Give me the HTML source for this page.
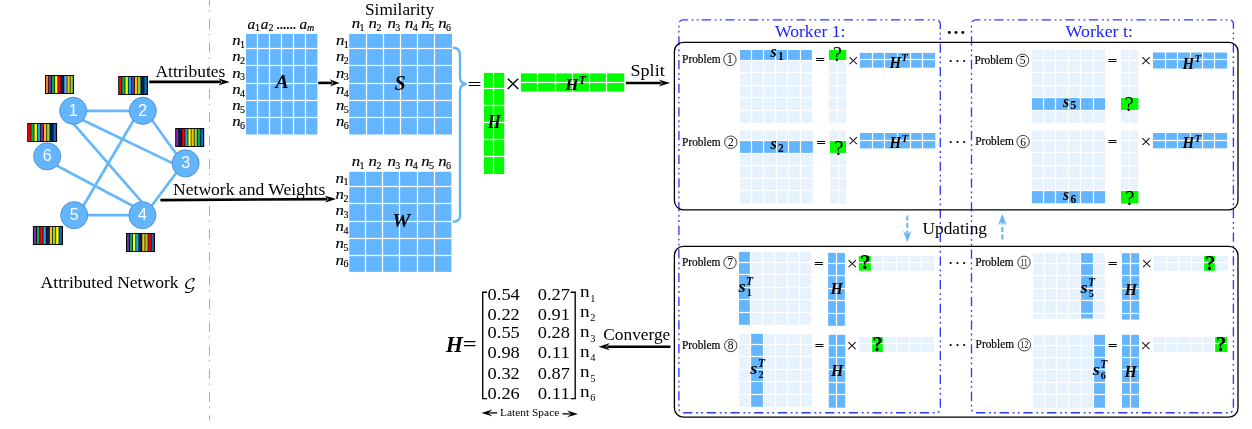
<!DOCTYPE html>
<html lang="en"><head><meta charset="utf-8"><title>Attributed Network Embedding Framework</title>
<style>html,body{margin:0;padding:0;background:#fff;}body{width:1252px;height:429px;overflow:hidden;}svg{display:block;}</style>
</head><body>
<svg width="1252" height="429" viewBox="0 0 1252 429"><line x1="85.80" y1="110.80" x2="130.20" y2="110.80" stroke="#66b8fb" stroke-width="2.7"/>
<line x1="82.11" y1="119.71" x2="173.00" y2="163.40" stroke="#66b8fb" stroke-width="2.7"/>
<line x1="73.20" y1="123.40" x2="142.40" y2="202.60" stroke="#66b8fb" stroke-width="2.7"/>
<line x1="151.71" y1="119.71" x2="176.69" y2="154.49" stroke="#66b8fb" stroke-width="2.7"/>
<line x1="133.89" y1="119.71" x2="83.11" y2="206.29" stroke="#66b8fb" stroke-width="2.7"/>
<line x1="176.69" y1="172.31" x2="151.31" y2="206.29" stroke="#66b8fb" stroke-width="2.7"/>
<line x1="56.11" y1="165.31" x2="133.49" y2="206.29" stroke="#66b8fb" stroke-width="2.7"/>
<line x1="86.80" y1="215.20" x2="129.80" y2="215.20" stroke="#66b8fb" stroke-width="2.7"/>
<circle cx="73.2" cy="110.8" r="13.55" fill="#63b6fd" stroke="#4d8fd2" stroke-width="0.9"/>
<text x="73.2" y="115.7" font-family='"Liberation Sans", sans-serif' font-size="16" font-weight="normal" font-style="normal" fill="#fff" text-anchor="middle" >1</text>
<circle cx="142.8" cy="110.8" r="13.55" fill="#63b6fd" stroke="#4d8fd2" stroke-width="0.9"/>
<text x="142.8" y="115.7" font-family='"Liberation Sans", sans-serif' font-size="16" font-weight="normal" font-style="normal" fill="#fff" text-anchor="middle" >2</text>
<circle cx="185.6" cy="163.4" r="13.55" fill="#63b6fd" stroke="#4d8fd2" stroke-width="0.9"/>
<text x="185.6" y="168.3" font-family='"Liberation Sans", sans-serif' font-size="16" font-weight="normal" font-style="normal" fill="#fff" text-anchor="middle" >3</text>
<circle cx="47.2" cy="156.4" r="13.55" fill="#63b6fd" stroke="#4d8fd2" stroke-width="0.9"/>
<text x="47.2" y="161.3" font-family='"Liberation Sans", sans-serif' font-size="16" font-weight="normal" font-style="normal" fill="#fff" text-anchor="middle" >6</text>
<circle cx="74.2" cy="215.2" r="13.55" fill="#63b6fd" stroke="#4d8fd2" stroke-width="0.9"/>
<text x="74.2" y="220.1" font-family='"Liberation Sans", sans-serif' font-size="16" font-weight="normal" font-style="normal" fill="#fff" text-anchor="middle" >5</text>
<circle cx="142.4" cy="215.2" r="13.55" fill="#63b6fd" stroke="#4d8fd2" stroke-width="0.9"/>
<text x="142.4" y="220.1" font-family='"Liberation Sans", sans-serif' font-size="16" font-weight="normal" font-style="normal" fill="#fff" text-anchor="middle" >4</text>
<rect x="45" y="75" width="29" height="19" fill="#000"/>
<rect x="45.90" y="75.90" width="2.37" height="17.20" fill="#f58220"/>
<rect x="48.97" y="75.90" width="2.37" height="17.20" fill="#7030a0"/>
<rect x="52.03" y="75.90" width="2.37" height="17.20" fill="#00b050"/>
<rect x="55.10" y="75.90" width="2.37" height="17.20" fill="#ffff00"/>
<rect x="58.17" y="75.90" width="2.37" height="17.20" fill="#ff0000"/>
<rect x="61.23" y="75.90" width="2.37" height="17.20" fill="#002060"/>
<rect x="64.30" y="75.90" width="2.37" height="17.20" fill="#5fb4f6"/>
<rect x="67.37" y="75.90" width="2.37" height="17.20" fill="#ffc000"/>
<rect x="70.43" y="75.90" width="2.37" height="17.20" fill="#92d050"/>
<rect x="118.2" y="76" width="29.8" height="19" fill="#000"/>
<rect x="119.10" y="76.90" width="2.46" height="17.20" fill="#ff0000"/>
<rect x="122.26" y="76.90" width="2.46" height="17.20" fill="#00b050"/>
<rect x="125.41" y="76.90" width="2.46" height="17.20" fill="#ffff00"/>
<rect x="128.57" y="76.90" width="2.46" height="17.20" fill="#00b0f0"/>
<rect x="131.72" y="76.90" width="2.46" height="17.20" fill="#7030a0"/>
<rect x="134.88" y="76.90" width="2.46" height="17.20" fill="#ffc000"/>
<rect x="138.03" y="76.90" width="2.46" height="17.20" fill="#92d050"/>
<rect x="141.19" y="76.90" width="2.46" height="17.20" fill="#002060"/>
<rect x="144.34" y="76.90" width="2.46" height="17.20" fill="#0070c0"/>
<rect x="27.2" y="123" width="29.9" height="19" fill="#000"/>
<rect x="28.10" y="123.90" width="2.47" height="17.20" fill="#ff0000"/>
<rect x="31.27" y="123.90" width="2.47" height="17.20" fill="#00b050"/>
<rect x="34.43" y="123.90" width="2.47" height="17.20" fill="#ffff00"/>
<rect x="37.60" y="123.90" width="2.47" height="17.20" fill="#00b0f0"/>
<rect x="40.77" y="123.90" width="2.47" height="17.20" fill="#7030a0"/>
<rect x="43.93" y="123.90" width="2.47" height="17.20" fill="#ffc000"/>
<rect x="47.10" y="123.90" width="2.47" height="17.20" fill="#92d050"/>
<rect x="50.27" y="123.90" width="2.47" height="17.20" fill="#002060"/>
<rect x="53.43" y="123.90" width="2.47" height="17.20" fill="#0070c0"/>
<rect x="175.2" y="128" width="29" height="19" fill="#000"/>
<rect x="176.10" y="128.90" width="2.37" height="17.20" fill="#7030a0"/>
<rect x="179.17" y="128.90" width="2.37" height="17.20" fill="#002060"/>
<rect x="182.23" y="128.90" width="2.37" height="17.20" fill="#ff0000"/>
<rect x="185.30" y="128.90" width="2.37" height="17.20" fill="#00b0f0"/>
<rect x="188.37" y="128.90" width="2.37" height="17.20" fill="#ffff00"/>
<rect x="191.43" y="128.90" width="2.37" height="17.20" fill="#ffc000"/>
<rect x="194.50" y="128.90" width="2.37" height="17.20" fill="#92d050"/>
<rect x="197.57" y="128.90" width="2.37" height="17.20" fill="#00b050"/>
<rect x="200.63" y="128.90" width="2.37" height="17.20" fill="#0070c0"/>
<rect x="32.9" y="226" width="30.1" height="19" fill="#000"/>
<rect x="33.80" y="226.90" width="2.49" height="17.20" fill="#7030a0"/>
<rect x="36.99" y="226.90" width="2.49" height="17.20" fill="#00b050"/>
<rect x="40.18" y="226.90" width="2.49" height="17.20" fill="#ff0000"/>
<rect x="43.37" y="226.90" width="2.49" height="17.20" fill="#00b0f0"/>
<rect x="46.56" y="226.90" width="2.49" height="17.20" fill="#002060"/>
<rect x="49.74" y="226.90" width="2.49" height="17.20" fill="#ffc000"/>
<rect x="52.93" y="226.90" width="2.49" height="17.20" fill="#92d050"/>
<rect x="56.12" y="226.90" width="2.49" height="17.20" fill="#ffff00"/>
<rect x="59.31" y="226.90" width="2.49" height="17.20" fill="#0070c0"/>
<rect x="126" y="233" width="29" height="19" fill="#000"/>
<rect x="126.90" y="233.90" width="2.37" height="17.20" fill="#7030a0"/>
<rect x="129.97" y="233.90" width="2.37" height="17.20" fill="#00b050"/>
<rect x="133.03" y="233.90" width="2.37" height="17.20" fill="#ffff00"/>
<rect x="136.10" y="233.90" width="2.37" height="17.20" fill="#00b0f0"/>
<rect x="139.17" y="233.90" width="2.37" height="17.20" fill="#002060"/>
<rect x="142.23" y="233.90" width="2.37" height="17.20" fill="#ffc000"/>
<rect x="145.30" y="233.90" width="2.37" height="17.20" fill="#92d050"/>
<rect x="148.37" y="233.90" width="2.37" height="17.20" fill="#ff0000"/>
<rect x="151.43" y="233.90" width="2.37" height="17.20" fill="#0070c0"/>
<text x="40.6" y="287.6" font-family='"Liberation Serif", serif' font-size="17.4" font-weight="normal" font-style="normal" fill="#000" text-anchor="start" textLength="138" lengthAdjust="spacingAndGlyphs" >Attributed Network</text>
<text x="183.2" y="288.9" font-family='"DejaVu Math TeX Gyre","DejaVu Serif",serif' font-size="14.2" font-weight="normal" font-style="normal" fill="#000" text-anchor="start" textLength="13" lengthAdjust="spacingAndGlyphs" >𝒢</text>
<line x1="209.5" y1="-4" x2="209.5" y2="420.6" stroke="#adadad" stroke-width="1" stroke-dasharray="10 4.5 1.5 7.3"/>
<line x1="149.2" y1="81.9" x2="221.07" y2="81.90" stroke="#000" stroke-width="2.6"/>
<polygon points="229.70,81.90 218.20,85.50 222.22,81.90 218.20,78.30" fill="#000"/>
<text x="155.5" y="76.6" font-family='"Liberation Serif", serif' font-size="17.4" font-weight="normal" font-style="normal" fill="#000" text-anchor="start" textLength="69.8" lengthAdjust="spacingAndGlyphs" >Attributes</text>
<line x1="160.4" y1="200.1" x2="327.48" y2="199.15" stroke="#000" stroke-width="2.6"/>
<polygon points="336.10,199.10 324.62,202.77 328.63,199.14 324.58,195.57" fill="#000"/>
<text x="173.1" y="194.5" font-family='"Liberation Serif", serif' font-size="17.3" font-weight="normal" font-style="normal" fill="#000" text-anchor="start" textLength="152.2" lengthAdjust="spacingAndGlyphs" >Network and Weights</text>
<line x1="318.2" y1="82.9" x2="332.10" y2="82.90" stroke="#000" stroke-width="2.6"/>
<polygon points="339.60,82.90 329.60,86.50 333.10,82.90 329.60,79.30" fill="#000"/>
<rect x="246.00" y="33.90" width="10.88" height="13.98" fill="#63b6fd"/><rect x="258.12" y="33.90" width="10.75" height="13.98" fill="#63b6fd"/><rect x="270.12" y="33.90" width="10.75" height="13.98" fill="#63b6fd"/><rect x="282.12" y="33.90" width="10.75" height="13.98" fill="#63b6fd"/><rect x="294.12" y="33.90" width="10.75" height="13.98" fill="#63b6fd"/><rect x="306.12" y="33.90" width="11.27" height="13.98" fill="#63b6fd"/><rect x="246.00" y="49.12" width="10.88" height="15.75" fill="#63b6fd"/><rect x="258.12" y="49.12" width="10.75" height="15.75" fill="#63b6fd"/><rect x="270.12" y="49.12" width="10.75" height="15.75" fill="#63b6fd"/><rect x="282.12" y="49.12" width="10.75" height="15.75" fill="#63b6fd"/><rect x="294.12" y="49.12" width="10.75" height="15.75" fill="#63b6fd"/><rect x="306.12" y="49.12" width="11.27" height="15.75" fill="#63b6fd"/><rect x="246.00" y="66.12" width="10.88" height="16.75" fill="#63b6fd"/><rect x="258.12" y="66.12" width="10.75" height="16.75" fill="#63b6fd"/><rect x="270.12" y="66.12" width="10.75" height="16.75" fill="#63b6fd"/><rect x="282.12" y="66.12" width="10.75" height="16.75" fill="#63b6fd"/><rect x="294.12" y="66.12" width="10.75" height="16.75" fill="#63b6fd"/><rect x="306.12" y="66.12" width="11.27" height="16.75" fill="#63b6fd"/><rect x="246.00" y="84.12" width="10.88" height="15.75" fill="#63b6fd"/><rect x="258.12" y="84.12" width="10.75" height="15.75" fill="#63b6fd"/><rect x="270.12" y="84.12" width="10.75" height="15.75" fill="#63b6fd"/><rect x="282.12" y="84.12" width="10.75" height="15.75" fill="#63b6fd"/><rect x="294.12" y="84.12" width="10.75" height="15.75" fill="#63b6fd"/><rect x="306.12" y="84.12" width="11.27" height="15.75" fill="#63b6fd"/><rect x="246.00" y="101.12" width="10.88" height="15.75" fill="#63b6fd"/><rect x="258.12" y="101.12" width="10.75" height="15.75" fill="#63b6fd"/><rect x="270.12" y="101.12" width="10.75" height="15.75" fill="#63b6fd"/><rect x="282.12" y="101.12" width="10.75" height="15.75" fill="#63b6fd"/><rect x="294.12" y="101.12" width="10.75" height="15.75" fill="#63b6fd"/><rect x="306.12" y="101.12" width="11.27" height="15.75" fill="#63b6fd"/><rect x="246.00" y="118.12" width="10.88" height="16.38" fill="#63b6fd"/><rect x="258.12" y="118.12" width="10.75" height="16.38" fill="#63b6fd"/><rect x="270.12" y="118.12" width="10.75" height="16.38" fill="#63b6fd"/><rect x="282.12" y="118.12" width="10.75" height="16.38" fill="#63b6fd"/><rect x="294.12" y="118.12" width="10.75" height="16.38" fill="#63b6fd"/><rect x="306.12" y="118.12" width="11.27" height="16.38" fill="#63b6fd"/>
<rect x="349.20" y="33.90" width="16.68" height="13.98" fill="#63b6fd"/><rect x="367.12" y="33.90" width="15.75" height="13.98" fill="#63b6fd"/><rect x="384.12" y="33.90" width="15.75" height="13.98" fill="#63b6fd"/><rect x="401.12" y="33.90" width="15.75" height="13.98" fill="#63b6fd"/><rect x="418.12" y="33.90" width="15.75" height="13.98" fill="#63b6fd"/><rect x="435.12" y="33.90" width="16.88" height="13.98" fill="#63b6fd"/><rect x="349.20" y="49.12" width="16.68" height="15.75" fill="#63b6fd"/><rect x="367.12" y="49.12" width="15.75" height="15.75" fill="#63b6fd"/><rect x="384.12" y="49.12" width="15.75" height="15.75" fill="#63b6fd"/><rect x="401.12" y="49.12" width="15.75" height="15.75" fill="#63b6fd"/><rect x="418.12" y="49.12" width="15.75" height="15.75" fill="#63b6fd"/><rect x="435.12" y="49.12" width="16.88" height="15.75" fill="#63b6fd"/><rect x="349.20" y="66.12" width="16.68" height="16.75" fill="#63b6fd"/><rect x="367.12" y="66.12" width="15.75" height="16.75" fill="#63b6fd"/><rect x="384.12" y="66.12" width="15.75" height="16.75" fill="#63b6fd"/><rect x="401.12" y="66.12" width="15.75" height="16.75" fill="#63b6fd"/><rect x="418.12" y="66.12" width="15.75" height="16.75" fill="#63b6fd"/><rect x="435.12" y="66.12" width="16.88" height="16.75" fill="#63b6fd"/><rect x="349.20" y="84.12" width="16.68" height="15.75" fill="#63b6fd"/><rect x="367.12" y="84.12" width="15.75" height="15.75" fill="#63b6fd"/><rect x="384.12" y="84.12" width="15.75" height="15.75" fill="#63b6fd"/><rect x="401.12" y="84.12" width="15.75" height="15.75" fill="#63b6fd"/><rect x="418.12" y="84.12" width="15.75" height="15.75" fill="#63b6fd"/><rect x="435.12" y="84.12" width="16.88" height="15.75" fill="#63b6fd"/><rect x="349.20" y="101.12" width="16.68" height="15.75" fill="#63b6fd"/><rect x="367.12" y="101.12" width="15.75" height="15.75" fill="#63b6fd"/><rect x="384.12" y="101.12" width="15.75" height="15.75" fill="#63b6fd"/><rect x="401.12" y="101.12" width="15.75" height="15.75" fill="#63b6fd"/><rect x="418.12" y="101.12" width="15.75" height="15.75" fill="#63b6fd"/><rect x="435.12" y="101.12" width="16.88" height="15.75" fill="#63b6fd"/><rect x="349.20" y="118.12" width="16.68" height="16.38" fill="#63b6fd"/><rect x="367.12" y="118.12" width="15.75" height="16.38" fill="#63b6fd"/><rect x="384.12" y="118.12" width="15.75" height="16.38" fill="#63b6fd"/><rect x="401.12" y="118.12" width="15.75" height="16.38" fill="#63b6fd"/><rect x="418.12" y="118.12" width="15.75" height="16.38" fill="#63b6fd"/><rect x="435.12" y="118.12" width="16.88" height="16.38" fill="#63b6fd"/>
<rect x="349.30" y="171.80" width="15.57" height="14.07" fill="#63b6fd"/><rect x="366.12" y="171.80" width="15.75" height="14.07" fill="#63b6fd"/><rect x="383.12" y="171.80" width="15.75" height="14.07" fill="#63b6fd"/><rect x="400.12" y="171.80" width="16.75" height="14.07" fill="#63b6fd"/><rect x="418.12" y="171.80" width="15.75" height="14.07" fill="#63b6fd"/><rect x="435.12" y="171.80" width="16.27" height="14.07" fill="#63b6fd"/><rect x="349.30" y="187.12" width="15.57" height="15.75" fill="#63b6fd"/><rect x="366.12" y="187.12" width="15.75" height="15.75" fill="#63b6fd"/><rect x="383.12" y="187.12" width="15.75" height="15.75" fill="#63b6fd"/><rect x="400.12" y="187.12" width="16.75" height="15.75" fill="#63b6fd"/><rect x="418.12" y="187.12" width="15.75" height="15.75" fill="#63b6fd"/><rect x="435.12" y="187.12" width="16.27" height="15.75" fill="#63b6fd"/><rect x="349.30" y="204.12" width="15.57" height="16.75" fill="#63b6fd"/><rect x="366.12" y="204.12" width="15.75" height="16.75" fill="#63b6fd"/><rect x="383.12" y="204.12" width="15.75" height="16.75" fill="#63b6fd"/><rect x="400.12" y="204.12" width="16.75" height="16.75" fill="#63b6fd"/><rect x="418.12" y="204.12" width="15.75" height="16.75" fill="#63b6fd"/><rect x="435.12" y="204.12" width="16.27" height="16.75" fill="#63b6fd"/><rect x="349.30" y="222.12" width="15.57" height="15.75" fill="#63b6fd"/><rect x="366.12" y="222.12" width="15.75" height="15.75" fill="#63b6fd"/><rect x="383.12" y="222.12" width="15.75" height="15.75" fill="#63b6fd"/><rect x="400.12" y="222.12" width="16.75" height="15.75" fill="#63b6fd"/><rect x="418.12" y="222.12" width="15.75" height="15.75" fill="#63b6fd"/><rect x="435.12" y="222.12" width="16.27" height="15.75" fill="#63b6fd"/><rect x="349.30" y="239.12" width="15.57" height="15.75" fill="#63b6fd"/><rect x="366.12" y="239.12" width="15.75" height="15.75" fill="#63b6fd"/><rect x="383.12" y="239.12" width="15.75" height="15.75" fill="#63b6fd"/><rect x="400.12" y="239.12" width="16.75" height="15.75" fill="#63b6fd"/><rect x="418.12" y="239.12" width="15.75" height="15.75" fill="#63b6fd"/><rect x="435.12" y="239.12" width="16.27" height="15.75" fill="#63b6fd"/><rect x="349.30" y="256.12" width="15.57" height="15.77" fill="#63b6fd"/><rect x="366.12" y="256.12" width="15.75" height="15.77" fill="#63b6fd"/><rect x="383.12" y="256.12" width="15.75" height="15.77" fill="#63b6fd"/><rect x="400.12" y="256.12" width="16.75" height="15.77" fill="#63b6fd"/><rect x="418.12" y="256.12" width="15.75" height="15.77" fill="#63b6fd"/><rect x="435.12" y="256.12" width="16.27" height="15.77" fill="#63b6fd"/>
<text x="232.3" y="44.8" font-family='"Liberation Serif", serif' font-size="14" font-style="italic" font-weight="normal" fill="#000" stroke="#000" stroke-width="0.15"><tspan textLength="8.4" lengthAdjust="spacingAndGlyphs">n</tspan><tspan font-size="10" font-style="normal" dy="2.8" dx="-0.6">1</tspan></text>
<text x="232.3" y="61.3" font-family='"Liberation Serif", serif' font-size="14" font-style="italic" font-weight="normal" fill="#000" stroke="#000" stroke-width="0.15"><tspan textLength="8.4" lengthAdjust="spacingAndGlyphs">n</tspan><tspan font-size="10" font-style="normal" dy="2.8" dx="-0.6">2</tspan></text>
<text x="232.3" y="77.5" font-family='"Liberation Serif", serif' font-size="14" font-style="italic" font-weight="normal" fill="#000" stroke="#000" stroke-width="0.15"><tspan textLength="8.4" lengthAdjust="spacingAndGlyphs">n</tspan><tspan font-size="10" font-style="normal" dy="2.8" dx="-0.6">3</tspan></text>
<text x="232.3" y="94" font-family='"Liberation Serif", serif' font-size="14" font-style="italic" font-weight="normal" fill="#000" stroke="#000" stroke-width="0.15"><tspan textLength="8.4" lengthAdjust="spacingAndGlyphs">n</tspan><tspan font-size="10" font-style="normal" dy="2.8" dx="-0.6">4</tspan></text>
<text x="232.3" y="110.2" font-family='"Liberation Serif", serif' font-size="14" font-style="italic" font-weight="normal" fill="#000" stroke="#000" stroke-width="0.15"><tspan textLength="8.4" lengthAdjust="spacingAndGlyphs">n</tspan><tspan font-size="10" font-style="normal" dy="2.8" dx="-0.6">5</tspan></text>
<text x="232.3" y="126.3" font-family='"Liberation Serif", serif' font-size="14" font-style="italic" font-weight="normal" fill="#000" stroke="#000" stroke-width="0.15"><tspan textLength="8.4" lengthAdjust="spacingAndGlyphs">n</tspan><tspan font-size="10" font-style="normal" dy="2.8" dx="-0.6">6</tspan></text>
<text x="336" y="44.8" font-family='"Liberation Serif", serif' font-size="14" font-style="italic" font-weight="normal" fill="#000" stroke="#000" stroke-width="0.15"><tspan textLength="8.4" lengthAdjust="spacingAndGlyphs">n</tspan><tspan font-size="10" font-style="normal" dy="2.8" dx="-0.6">1</tspan></text>
<text x="336" y="61.3" font-family='"Liberation Serif", serif' font-size="14" font-style="italic" font-weight="normal" fill="#000" stroke="#000" stroke-width="0.15"><tspan textLength="8.4" lengthAdjust="spacingAndGlyphs">n</tspan><tspan font-size="10" font-style="normal" dy="2.8" dx="-0.6">2</tspan></text>
<text x="336" y="77.5" font-family='"Liberation Serif", serif' font-size="14" font-style="italic" font-weight="normal" fill="#000" stroke="#000" stroke-width="0.15"><tspan textLength="8.4" lengthAdjust="spacingAndGlyphs">n</tspan><tspan font-size="10" font-style="normal" dy="2.8" dx="-0.6">3</tspan></text>
<text x="336" y="94" font-family='"Liberation Serif", serif' font-size="14" font-style="italic" font-weight="normal" fill="#000" stroke="#000" stroke-width="0.15"><tspan textLength="8.4" lengthAdjust="spacingAndGlyphs">n</tspan><tspan font-size="10" font-style="normal" dy="2.8" dx="-0.6">4</tspan></text>
<text x="336" y="110.2" font-family='"Liberation Serif", serif' font-size="14" font-style="italic" font-weight="normal" fill="#000" stroke="#000" stroke-width="0.15"><tspan textLength="8.4" lengthAdjust="spacingAndGlyphs">n</tspan><tspan font-size="10" font-style="normal" dy="2.8" dx="-0.6">5</tspan></text>
<text x="336" y="126.3" font-family='"Liberation Serif", serif' font-size="14" font-style="italic" font-weight="normal" fill="#000" stroke="#000" stroke-width="0.15"><tspan textLength="8.4" lengthAdjust="spacingAndGlyphs">n</tspan><tspan font-size="10" font-style="normal" dy="2.8" dx="-0.6">6</tspan></text>
<text x="335.6" y="182.5" font-family='"Liberation Serif", serif' font-size="14" font-style="italic" font-weight="normal" fill="#000" stroke="#000" stroke-width="0.15"><tspan textLength="8.4" lengthAdjust="spacingAndGlyphs">n</tspan><tspan font-size="10" font-style="normal" dy="2.8" dx="-0.6">1</tspan></text>
<text x="335.6" y="198.7" font-family='"Liberation Serif", serif' font-size="14" font-style="italic" font-weight="normal" fill="#000" stroke="#000" stroke-width="0.15"><tspan textLength="8.4" lengthAdjust="spacingAndGlyphs">n</tspan><tspan font-size="10" font-style="normal" dy="2.8" dx="-0.6">2</tspan></text>
<text x="335.6" y="215.1" font-family='"Liberation Serif", serif' font-size="14" font-style="italic" font-weight="normal" fill="#000" stroke="#000" stroke-width="0.15"><tspan textLength="8.4" lengthAdjust="spacingAndGlyphs">n</tspan><tspan font-size="10" font-style="normal" dy="2.8" dx="-0.6">3</tspan></text>
<text x="335.6" y="231.3" font-family='"Liberation Serif", serif' font-size="14" font-style="italic" font-weight="normal" fill="#000" stroke="#000" stroke-width="0.15"><tspan textLength="8.4" lengthAdjust="spacingAndGlyphs">n</tspan><tspan font-size="10" font-style="normal" dy="2.8" dx="-0.6">4</tspan></text>
<text x="335.6" y="248" font-family='"Liberation Serif", serif' font-size="14" font-style="italic" font-weight="normal" fill="#000" stroke="#000" stroke-width="0.15"><tspan textLength="8.4" lengthAdjust="spacingAndGlyphs">n</tspan><tspan font-size="10" font-style="normal" dy="2.8" dx="-0.6">5</tspan></text>
<text x="335.6" y="264.6" font-family='"Liberation Serif", serif' font-size="14" font-style="italic" font-weight="normal" fill="#000" stroke="#000" stroke-width="0.15"><tspan textLength="8.4" lengthAdjust="spacingAndGlyphs">n</tspan><tspan font-size="10" font-style="normal" dy="2.8" dx="-0.6">6</tspan></text>
<text x="351.7" y="28.2" font-family='"Liberation Serif", serif' font-size="14" font-style="italic" font-weight="normal" fill="#000" stroke="#000" stroke-width="0.15"><tspan textLength="8.4" lengthAdjust="spacingAndGlyphs">n</tspan><tspan font-size="10" font-style="normal" dy="2.8" dx="-0.6">1</tspan></text>
<text x="351.7" y="165.9" font-family='"Liberation Serif", serif' font-size="14" font-style="italic" font-weight="normal" fill="#000" stroke="#000" stroke-width="0.15"><tspan textLength="8.4" lengthAdjust="spacingAndGlyphs">n</tspan><tspan font-size="10" font-style="normal" dy="2.8" dx="-0.6">1</tspan></text>
<text x="368.6" y="28.2" font-family='"Liberation Serif", serif' font-size="14" font-style="italic" font-weight="normal" fill="#000" stroke="#000" stroke-width="0.15"><tspan textLength="8.4" lengthAdjust="spacingAndGlyphs">n</tspan><tspan font-size="10" font-style="normal" dy="2.8" dx="-0.6">2</tspan></text>
<text x="368.6" y="165.9" font-family='"Liberation Serif", serif' font-size="14" font-style="italic" font-weight="normal" fill="#000" stroke="#000" stroke-width="0.15"><tspan textLength="8.4" lengthAdjust="spacingAndGlyphs">n</tspan><tspan font-size="10" font-style="normal" dy="2.8" dx="-0.6">2</tspan></text>
<text x="387.5" y="28.2" font-family='"Liberation Serif", serif' font-size="14" font-style="italic" font-weight="normal" fill="#000" stroke="#000" stroke-width="0.15"><tspan textLength="8.4" lengthAdjust="spacingAndGlyphs">n</tspan><tspan font-size="10" font-style="normal" dy="2.8" dx="-0.6">3</tspan></text>
<text x="387.5" y="165.9" font-family='"Liberation Serif", serif' font-size="14" font-style="italic" font-weight="normal" fill="#000" stroke="#000" stroke-width="0.15"><tspan textLength="8.4" lengthAdjust="spacingAndGlyphs">n</tspan><tspan font-size="10" font-style="normal" dy="2.8" dx="-0.6">3</tspan></text>
<text x="405" y="28.2" font-family='"Liberation Serif", serif' font-size="14" font-style="italic" font-weight="normal" fill="#000" stroke="#000" stroke-width="0.15"><tspan textLength="8.4" lengthAdjust="spacingAndGlyphs">n</tspan><tspan font-size="10" font-style="normal" dy="2.8" dx="-0.6">4</tspan></text>
<text x="405" y="165.9" font-family='"Liberation Serif", serif' font-size="14" font-style="italic" font-weight="normal" fill="#000" stroke="#000" stroke-width="0.15"><tspan textLength="8.4" lengthAdjust="spacingAndGlyphs">n</tspan><tspan font-size="10" font-style="normal" dy="2.8" dx="-0.6">4</tspan></text>
<text x="421.3" y="28.2" font-family='"Liberation Serif", serif' font-size="14" font-style="italic" font-weight="normal" fill="#000" stroke="#000" stroke-width="0.15"><tspan textLength="8.4" lengthAdjust="spacingAndGlyphs">n</tspan><tspan font-size="10" font-style="normal" dy="2.8" dx="-0.6">5</tspan></text>
<text x="421.3" y="165.9" font-family='"Liberation Serif", serif' font-size="14" font-style="italic" font-weight="normal" fill="#000" stroke="#000" stroke-width="0.15"><tspan textLength="8.4" lengthAdjust="spacingAndGlyphs">n</tspan><tspan font-size="10" font-style="normal" dy="2.8" dx="-0.6">5</tspan></text>
<text x="438.2" y="28.2" font-family='"Liberation Serif", serif' font-size="14" font-style="italic" font-weight="normal" fill="#000" stroke="#000" stroke-width="0.15"><tspan textLength="8.4" lengthAdjust="spacingAndGlyphs">n</tspan><tspan font-size="10" font-style="normal" dy="2.8" dx="-0.6">6</tspan></text>
<text x="438.2" y="165.9" font-family='"Liberation Serif", serif' font-size="14" font-style="italic" font-weight="normal" fill="#000" stroke="#000" stroke-width="0.15"><tspan textLength="8.4" lengthAdjust="spacingAndGlyphs">n</tspan><tspan font-size="10" font-style="normal" dy="2.8" dx="-0.6">6</tspan></text>
<text x="247.6" y="28.9" font-family='"Liberation Serif", serif' font-size="14" font-style="italic" font-weight="normal" fill="#000" stroke="#000" stroke-width="0.15"><tspan textLength="7.6" lengthAdjust="spacingAndGlyphs">a</tspan><tspan font-size="10" font-style="normal" dy="1.9" dx="-0.2">1</tspan></text>
<text x="260.7" y="28.9" font-family='"Liberation Serif", serif' font-size="14" font-style="italic" font-weight="normal" fill="#000" stroke="#000" stroke-width="0.15"><tspan textLength="7.6" lengthAdjust="spacingAndGlyphs">a</tspan><tspan font-size="10" font-style="normal" dy="1.9" dx="0.1">2</tspan></text>
<text x="276.6" y="29.2" font-family='"Liberation Serif", serif' font-size="13" font-weight="bold" font-style="normal" fill="#000" text-anchor="start" textLength="19.5" lengthAdjust="spacingAndGlyphs" >......</text>
<text x="299.5" y="28.9" font-family='"Liberation Serif", serif' font-size="14" font-style="italic" font-weight="normal" fill="#000" stroke="#000" stroke-width="0.15"><tspan textLength="7.6" lengthAdjust="spacingAndGlyphs">a</tspan><tspan font-size="10" font-style="italic" dy="1.9" dx="-0.2">m</tspan></text>
<text x="365" y="14.8" font-family='"Liberation Serif", serif' font-size="17" font-weight="normal" font-style="normal" fill="#000" text-anchor="start" textLength="69" lengthAdjust="spacingAndGlyphs" >Similarity</text>
<text x="275.6" y="87.8" font-family='"Liberation Serif", serif' font-size="19.5" font-weight="bold" font-style="italic" fill="#000" text-anchor="start" >A</text>
<text x="394.5" y="89.5" font-family='"Liberation Serif", serif' font-size="20" font-weight="bold" font-style="italic" fill="#000" text-anchor="start" >S</text>
<text x="392.2" y="227" font-family='"Liberation Serif", serif' font-size="19.5" font-weight="bold" font-style="italic" fill="#000" text-anchor="start" textLength="18" lengthAdjust="spacingAndGlyphs" >W</text>
<path d="M452.8,47.8 Q460,47.8 460,55 L460,77.5 Q460,83.4 466.6,84 Q460,84.6 460,90.5 L460,216 Q460,221.6 452.8,221.7" fill="none" stroke="#63b6fd" stroke-width="2.4"/>
<text x="467.54" y="88.88" font-family='"Liberation Serif", serif' font-size="14.5" font-weight="bold" font-style="normal" fill="#000" text-anchor="start" textLength="14.31" lengthAdjust="spacingAndGlyphs" >=</text>
<rect x="484.00" y="72.90" width="8.88" height="14.97" fill="#00fc00"/><rect x="494.12" y="72.90" width="10.07" height="14.97" fill="#00fc00"/><rect x="484.00" y="89.12" width="8.88" height="15.75" fill="#00fc00"/><rect x="494.12" y="89.12" width="10.07" height="15.75" fill="#00fc00"/><rect x="484.00" y="106.12" width="8.88" height="15.75" fill="#00fc00"/><rect x="494.12" y="106.12" width="10.07" height="15.75" fill="#00fc00"/><rect x="484.00" y="123.12" width="8.88" height="15.75" fill="#00fc00"/><rect x="494.12" y="123.12" width="10.07" height="15.75" fill="#00fc00"/><rect x="484.00" y="140.12" width="8.88" height="15.75" fill="#00fc00"/><rect x="494.12" y="140.12" width="10.07" height="15.75" fill="#00fc00"/><rect x="484.00" y="157.12" width="8.88" height="16.88" fill="#00fc00"/><rect x="494.12" y="157.12" width="10.07" height="16.88" fill="#00fc00"/>
<text x="487.8" y="127.9" font-family='"Liberation Serif", serif' font-size="18" font-weight="bold" font-style="italic" fill="#000" text-anchor="start" textLength="13" lengthAdjust="spacingAndGlyphs" >H</text>
<text x="504.89" y="92.52" font-family='"Liberation Serif", serif' font-size="28.25" font-weight="normal" font-style="normal" fill="#000" text-anchor="start" >×</text>
<rect x="520.90" y="73.40" width="15.98" height="8.47" fill="#00fc00"/><rect x="538.12" y="73.40" width="16.75" height="8.47" fill="#00fc00"/><rect x="556.12" y="73.40" width="15.75" height="8.47" fill="#00fc00"/><rect x="573.12" y="73.40" width="15.75" height="8.47" fill="#00fc00"/><rect x="590.12" y="73.40" width="15.75" height="8.47" fill="#00fc00"/><rect x="607.12" y="73.40" width="17.17" height="8.47" fill="#00fc00"/><rect x="520.90" y="83.12" width="15.98" height="8.47" fill="#00fc00"/><rect x="538.12" y="83.12" width="16.75" height="8.47" fill="#00fc00"/><rect x="556.12" y="83.12" width="15.75" height="8.47" fill="#00fc00"/><rect x="573.12" y="83.12" width="15.75" height="8.47" fill="#00fc00"/><rect x="590.12" y="83.12" width="15.75" height="8.47" fill="#00fc00"/><rect x="607.12" y="83.12" width="17.17" height="8.47" fill="#00fc00"/>
<text x="565.3" y="90.2" font-family='"Liberation Serif", serif' font-size="17" font-style="italic" font-weight="bold" fill="#000"><tspan>H</tspan><tspan font-size="11.5" dy="-6.4" dx="0.3">T</tspan></text>
<line x1="625.9" y1="83" x2="661.48" y2="83.00" stroke="#000" stroke-width="2.6"/>
<polygon points="670.10,83.00 658.60,86.60 662.62,83.00 658.60,79.40" fill="#000"/>
<text x="630.5" y="75.5" font-family='"Liberation Serif", serif' font-size="17.3" font-weight="normal" font-style="normal" fill="#000" text-anchor="start" textLength="34.2" lengthAdjust="spacingAndGlyphs" >Split</text>
<path d="M701.6999999999999,19.8 H936.3 A4,4 0 0 1 940.3,23.8 V408.7 A4,4 0 0 1 936.3,412.7 H682.9 A4,4 0 0 1 678.9,408.7 V23.8 A4,4 0 0 1 682.9,19.8 H701.6999999999999" fill="none" stroke="#2b3cff" stroke-width="1.35" stroke-dasharray="9.2484 3.7789 1.7900 3.2817 1.7900 3.7789"/>
<path d="M994.3,19.8 H1229.4 A4,4 0 0 1 1233.4,23.8 V408.7 A4,4 0 0 1 1229.4,412.7 H975.5 A4,4 0 0 1 971.5,408.7 V23.8 A4,4 0 0 1 975.5,19.8 H994.3" fill="none" stroke="#2b3cff" stroke-width="1.35" stroke-dasharray="9.2555 3.7818 1.7914 3.2842 1.7914 3.7818"/>
<rect x="674.4" y="42.4" width="563.6" height="167.4" rx="9" fill="none" stroke="#000" stroke-width="1.3"/>
<rect x="674.4" y="246.4" width="563.6" height="170.79999999999998" rx="9" fill="none" stroke="#000" stroke-width="1.3"/>
<text x="775" y="36.5" font-family='"Liberation Serif", serif' font-size="16.6" font-weight="normal" font-style="normal" fill="#1c22ff" text-anchor="start" textLength="70.4" lengthAdjust="spacingAndGlyphs" >Worker 1:</text>
<text x="1065.6" y="36.5" font-family='"Liberation Serif", serif' font-size="16.6" font-weight="normal" font-style="normal" fill="#1c22ff" text-anchor="start" textLength="67.3" lengthAdjust="spacingAndGlyphs" >Worker t:</text>
<text x="947.0" y="33.9" font-family='"Liberation Serif", serif' font-size="18.5" font-weight="bold" font-style="normal" fill="#000" text-anchor="start" textLength="18.1" lengthAdjust="spacing" >...</text>
<text x="682.1" y="62.6" font-family='"Liberation Serif", serif' font-size="12" font-weight="normal" font-style="normal" fill="#000" text-anchor="start" textLength="38.5" lengthAdjust="spacingAndGlyphs" stroke="#000" stroke-width="0.2">Problem</text>
<circle cx="729.9" cy="59.5" r="6.2" fill="none" stroke="#000" stroke-width="0.75"/>
<text x="729.9" y="63.41" font-family='"Liberation Serif", serif' font-size="11.5" font-weight="normal" font-style="normal" fill="#000" text-anchor="middle" >1</text>
<rect x="740.00" y="50.00" width="10.88" height="9.88" fill="#63b6fd"/><rect x="752.12" y="50.00" width="10.75" height="9.88" fill="#63b6fd"/><rect x="764.12" y="50.00" width="10.75" height="9.88" fill="#63b6fd"/><rect x="776.12" y="50.00" width="10.75" height="9.88" fill="#63b6fd"/><rect x="788.12" y="50.00" width="11.75" height="9.88" fill="#63b6fd"/><rect x="801.12" y="50.00" width="10.77" height="9.88" fill="#63b6fd"/><rect x="740.00" y="61.12" width="10.88" height="10.75" fill="#e6f3fe"/><rect x="752.12" y="61.12" width="10.75" height="10.75" fill="#e6f3fe"/><rect x="764.12" y="61.12" width="10.75" height="10.75" fill="#e6f3fe"/><rect x="776.12" y="61.12" width="10.75" height="10.75" fill="#e6f3fe"/><rect x="788.12" y="61.12" width="11.75" height="10.75" fill="#e6f3fe"/><rect x="801.12" y="61.12" width="10.77" height="10.75" fill="#e6f3fe"/><rect x="740.00" y="73.12" width="10.88" height="11.75" fill="#e6f3fe"/><rect x="752.12" y="73.12" width="10.75" height="11.75" fill="#e6f3fe"/><rect x="764.12" y="73.12" width="10.75" height="11.75" fill="#e6f3fe"/><rect x="776.12" y="73.12" width="10.75" height="11.75" fill="#e6f3fe"/><rect x="788.12" y="73.12" width="11.75" height="11.75" fill="#e6f3fe"/><rect x="801.12" y="73.12" width="10.77" height="11.75" fill="#e6f3fe"/><rect x="740.00" y="86.12" width="10.88" height="10.75" fill="#e6f3fe"/><rect x="752.12" y="86.12" width="10.75" height="10.75" fill="#e6f3fe"/><rect x="764.12" y="86.12" width="10.75" height="10.75" fill="#e6f3fe"/><rect x="776.12" y="86.12" width="10.75" height="10.75" fill="#e6f3fe"/><rect x="788.12" y="86.12" width="11.75" height="10.75" fill="#e6f3fe"/><rect x="801.12" y="86.12" width="10.77" height="10.75" fill="#e6f3fe"/><rect x="740.00" y="98.12" width="10.88" height="11.75" fill="#e6f3fe"/><rect x="752.12" y="98.12" width="10.75" height="11.75" fill="#e6f3fe"/><rect x="764.12" y="98.12" width="10.75" height="11.75" fill="#e6f3fe"/><rect x="776.12" y="98.12" width="10.75" height="11.75" fill="#e6f3fe"/><rect x="788.12" y="98.12" width="11.75" height="11.75" fill="#e6f3fe"/><rect x="801.12" y="98.12" width="10.77" height="11.75" fill="#e6f3fe"/><rect x="740.00" y="111.12" width="10.88" height="11.78" fill="#e6f3fe"/><rect x="752.12" y="111.12" width="10.75" height="11.78" fill="#e6f3fe"/><rect x="764.12" y="111.12" width="10.75" height="11.78" fill="#e6f3fe"/><rect x="776.12" y="111.12" width="10.75" height="11.78" fill="#e6f3fe"/><rect x="788.12" y="111.12" width="11.75" height="11.78" fill="#e6f3fe"/><rect x="801.12" y="111.12" width="10.77" height="11.78" fill="#e6f3fe"/>
<rect x="829.00" y="50.00" width="7.88" height="9.88" fill="#00fc00"/><rect x="838.12" y="50.00" width="7.98" height="9.88" fill="#00fc00"/><rect x="829.00" y="61.12" width="7.88" height="10.75" fill="#e6f3fe"/><rect x="838.12" y="61.12" width="7.98" height="10.75" fill="#e6f3fe"/><rect x="829.00" y="73.12" width="7.88" height="11.75" fill="#e6f3fe"/><rect x="838.12" y="73.12" width="7.98" height="11.75" fill="#e6f3fe"/><rect x="829.00" y="86.12" width="7.88" height="10.75" fill="#e6f3fe"/><rect x="838.12" y="86.12" width="7.98" height="10.75" fill="#e6f3fe"/><rect x="829.00" y="98.12" width="7.88" height="11.75" fill="#e6f3fe"/><rect x="838.12" y="98.12" width="7.98" height="11.75" fill="#e6f3fe"/><rect x="829.00" y="111.12" width="7.88" height="11.78" fill="#e6f3fe"/><rect x="838.12" y="111.12" width="7.98" height="11.78" fill="#e6f3fe"/>
<rect x="829" y="50.00" width="17.1" height="9.60" fill="#00fc00"/>
<rect x="859.80" y="52.90" width="12.08" height="5.98" fill="#63b6fd"/><rect x="873.12" y="52.90" width="10.75" height="5.98" fill="#63b6fd"/><rect x="885.12" y="52.90" width="11.75" height="5.98" fill="#63b6fd"/><rect x="898.12" y="52.90" width="11.75" height="5.98" fill="#63b6fd"/><rect x="911.12" y="52.90" width="10.75" height="5.98" fill="#63b6fd"/><rect x="923.12" y="52.90" width="11.88" height="5.98" fill="#63b6fd"/><rect x="859.80" y="60.12" width="12.08" height="7.58" fill="#63b6fd"/><rect x="873.12" y="60.12" width="10.75" height="7.58" fill="#63b6fd"/><rect x="885.12" y="60.12" width="11.75" height="7.58" fill="#63b6fd"/><rect x="898.12" y="60.12" width="11.75" height="7.58" fill="#63b6fd"/><rect x="911.12" y="60.12" width="10.75" height="7.58" fill="#63b6fd"/><rect x="923.12" y="60.12" width="11.88" height="7.58" fill="#63b6fd"/>
<text x="815.23" y="64.36" font-family='"Liberation Serif", serif' font-size="13.5" font-weight="bold" font-style="normal" fill="#000" text-anchor="start" textLength="9.95" lengthAdjust="spacingAndGlyphs" >=</text>
<text x="847.64" y="67.33" font-family='"Liberation Serif", serif' font-size="19.5" font-weight="normal" font-style="normal" fill="#000" text-anchor="start" >×</text>
<text x="889.4" y="67.7" font-family='"Liberation Serif", serif' font-size="16.5" font-style="italic" font-weight="bold" fill="#000"><tspan textLength="11.6" lengthAdjust="spacingAndGlyphs">H</tspan><tspan font-size="10.8" dy="-6.8" dx="0.3">T</tspan></text>
<text x="770.5" y="56.9" font-family='"Liberation Serif", serif' font-size="16" font-style="italic" font-weight="bold" fill="#000"><tspan>s</tspan><tspan font-size="11.5" font-style="normal" dy="2.9" dx="1.2">1</tspan></text>
<text x="832.63" y="61.49" font-family='"Liberation Serif", serif' font-size="20.75" font-weight="normal" font-style="normal" fill="#000" text-anchor="start" >?</text>
<text x="682.1" y="145.8" font-family='"Liberation Serif", serif' font-size="12" font-weight="normal" font-style="normal" fill="#000" text-anchor="start" textLength="38.5" lengthAdjust="spacingAndGlyphs" stroke="#000" stroke-width="0.2">Problem</text>
<circle cx="730.8" cy="142.2" r="6.2" fill="none" stroke="#000" stroke-width="0.75"/>
<text x="730.8" y="146.10999999999999" font-family='"Liberation Serif", serif' font-size="11.5" font-weight="normal" font-style="normal" fill="#000" text-anchor="middle" >2</text>
<rect x="740.00" y="130.50" width="10.88" height="9.38" fill="#e6f3fe"/><rect x="752.12" y="130.50" width="10.75" height="9.38" fill="#e6f3fe"/><rect x="764.12" y="130.50" width="11.75" height="9.38" fill="#e6f3fe"/><rect x="777.12" y="130.50" width="10.75" height="9.38" fill="#e6f3fe"/><rect x="789.12" y="130.50" width="10.75" height="9.38" fill="#e6f3fe"/><rect x="801.12" y="130.50" width="11.67" height="9.38" fill="#e6f3fe"/><rect x="740.00" y="141.12" width="10.88" height="11.75" fill="#63b6fd"/><rect x="752.12" y="141.12" width="10.75" height="11.75" fill="#63b6fd"/><rect x="764.12" y="141.12" width="11.75" height="11.75" fill="#63b6fd"/><rect x="777.12" y="141.12" width="10.75" height="11.75" fill="#63b6fd"/><rect x="789.12" y="141.12" width="10.75" height="11.75" fill="#63b6fd"/><rect x="801.12" y="141.12" width="11.67" height="11.75" fill="#63b6fd"/><rect x="740.00" y="154.12" width="10.88" height="10.75" fill="#e6f3fe"/><rect x="752.12" y="154.12" width="10.75" height="10.75" fill="#e6f3fe"/><rect x="764.12" y="154.12" width="11.75" height="10.75" fill="#e6f3fe"/><rect x="777.12" y="154.12" width="10.75" height="10.75" fill="#e6f3fe"/><rect x="789.12" y="154.12" width="10.75" height="10.75" fill="#e6f3fe"/><rect x="801.12" y="154.12" width="11.67" height="10.75" fill="#e6f3fe"/><rect x="740.00" y="166.12" width="10.88" height="11.75" fill="#e6f3fe"/><rect x="752.12" y="166.12" width="10.75" height="11.75" fill="#e6f3fe"/><rect x="764.12" y="166.12" width="11.75" height="11.75" fill="#e6f3fe"/><rect x="777.12" y="166.12" width="10.75" height="11.75" fill="#e6f3fe"/><rect x="789.12" y="166.12" width="10.75" height="11.75" fill="#e6f3fe"/><rect x="801.12" y="166.12" width="11.67" height="11.75" fill="#e6f3fe"/><rect x="740.00" y="179.12" width="10.88" height="10.75" fill="#e6f3fe"/><rect x="752.12" y="179.12" width="10.75" height="10.75" fill="#e6f3fe"/><rect x="764.12" y="179.12" width="11.75" height="10.75" fill="#e6f3fe"/><rect x="777.12" y="179.12" width="10.75" height="10.75" fill="#e6f3fe"/><rect x="789.12" y="179.12" width="10.75" height="10.75" fill="#e6f3fe"/><rect x="801.12" y="179.12" width="11.67" height="10.75" fill="#e6f3fe"/><rect x="740.00" y="191.12" width="10.88" height="12.28" fill="#e6f3fe"/><rect x="752.12" y="191.12" width="10.75" height="12.28" fill="#e6f3fe"/><rect x="764.12" y="191.12" width="11.75" height="12.28" fill="#e6f3fe"/><rect x="777.12" y="191.12" width="10.75" height="12.28" fill="#e6f3fe"/><rect x="789.12" y="191.12" width="10.75" height="12.28" fill="#e6f3fe"/><rect x="801.12" y="191.12" width="11.67" height="12.28" fill="#e6f3fe"/>
<rect x="830.00" y="130.50" width="7.88" height="9.38" fill="#e6f3fe"/><rect x="839.12" y="130.50" width="6.88" height="9.38" fill="#e6f3fe"/><rect x="830.00" y="141.12" width="7.88" height="11.75" fill="#00fc00"/><rect x="839.12" y="141.12" width="6.88" height="11.75" fill="#00fc00"/><rect x="830.00" y="154.12" width="7.88" height="10.75" fill="#e6f3fe"/><rect x="839.12" y="154.12" width="6.88" height="10.75" fill="#e6f3fe"/><rect x="830.00" y="166.12" width="7.88" height="11.75" fill="#e6f3fe"/><rect x="839.12" y="166.12" width="6.88" height="11.75" fill="#e6f3fe"/><rect x="830.00" y="179.12" width="7.88" height="10.75" fill="#e6f3fe"/><rect x="839.12" y="179.12" width="6.88" height="10.75" fill="#e6f3fe"/><rect x="830.00" y="191.12" width="7.88" height="12.28" fill="#e6f3fe"/><rect x="839.12" y="191.12" width="6.88" height="12.28" fill="#e6f3fe"/>
<rect x="830" y="141.30" width="16" height="11.10" fill="#00fc00"/>
<rect x="860.00" y="133.00" width="11.88" height="6.88" fill="#63b6fd"/><rect x="873.12" y="133.00" width="10.75" height="6.88" fill="#63b6fd"/><rect x="885.12" y="133.00" width="11.75" height="6.88" fill="#63b6fd"/><rect x="898.12" y="133.00" width="11.75" height="6.88" fill="#63b6fd"/><rect x="911.12" y="133.00" width="10.75" height="6.88" fill="#63b6fd"/><rect x="923.12" y="133.00" width="12.17" height="6.88" fill="#63b6fd"/><rect x="860.00" y="141.12" width="11.88" height="7.28" fill="#63b6fd"/><rect x="873.12" y="141.12" width="10.75" height="7.28" fill="#63b6fd"/><rect x="885.12" y="141.12" width="11.75" height="7.28" fill="#63b6fd"/><rect x="898.12" y="141.12" width="11.75" height="7.28" fill="#63b6fd"/><rect x="911.12" y="141.12" width="10.75" height="7.28" fill="#63b6fd"/><rect x="923.12" y="141.12" width="12.17" height="7.28" fill="#63b6fd"/>
<text x="816.23" y="146.76" font-family='"Liberation Serif", serif' font-size="13.5" font-weight="bold" font-style="normal" fill="#000" text-anchor="start" textLength="9.95" lengthAdjust="spacingAndGlyphs" >=</text>
<text x="847.84" y="147.44" font-family='"Liberation Serif", serif' font-size="19.5" font-weight="normal" font-style="normal" fill="#000" text-anchor="start" >×</text>
<text x="889.6" y="148.4" font-family='"Liberation Serif", serif' font-size="16.5" font-style="italic" font-weight="bold" fill="#000"><tspan textLength="11.6" lengthAdjust="spacingAndGlyphs">H</tspan><tspan font-size="10.8" dy="-6.8" dx="0.3">T</tspan></text>
<text x="770.5" y="149.4" font-family='"Liberation Serif", serif' font-size="16" font-style="italic" font-weight="bold" fill="#000"><tspan>s</tspan><tspan font-size="11.5" font-style="normal" dy="2.9" dx="1.2">2</tspan></text>
<text x="834.23" y="154.59" font-family='"Liberation Serif", serif' font-size="20.75" font-weight="normal" font-style="normal" fill="#000" text-anchor="start" >?</text>
<text x="974.4000000000001" y="63.7" font-family='"Liberation Serif", serif' font-size="12" font-weight="normal" font-style="normal" fill="#000" text-anchor="start" textLength="38.5" lengthAdjust="spacingAndGlyphs" stroke="#000" stroke-width="0.2">Problem</text>
<circle cx="1022.5" cy="60.3" r="6.2" fill="none" stroke="#000" stroke-width="0.75"/>
<text x="1022.5" y="64.21" font-family='"Liberation Serif", serif' font-size="11.5" font-weight="normal" font-style="normal" fill="#000" text-anchor="middle" >5</text>
<rect x="1031.90" y="50.00" width="10.97" height="9.88" fill="#e6f3fe"/><rect x="1044.12" y="50.00" width="10.75" height="9.88" fill="#e6f3fe"/><rect x="1056.12" y="50.00" width="11.75" height="9.88" fill="#e6f3fe"/><rect x="1069.12" y="50.00" width="10.75" height="9.88" fill="#e6f3fe"/><rect x="1081.12" y="50.00" width="11.75" height="9.88" fill="#e6f3fe"/><rect x="1094.12" y="50.00" width="10.98" height="9.88" fill="#e6f3fe"/><rect x="1031.90" y="61.12" width="10.97" height="10.75" fill="#e6f3fe"/><rect x="1044.12" y="61.12" width="10.75" height="10.75" fill="#e6f3fe"/><rect x="1056.12" y="61.12" width="11.75" height="10.75" fill="#e6f3fe"/><rect x="1069.12" y="61.12" width="10.75" height="10.75" fill="#e6f3fe"/><rect x="1081.12" y="61.12" width="11.75" height="10.75" fill="#e6f3fe"/><rect x="1094.12" y="61.12" width="10.98" height="10.75" fill="#e6f3fe"/><rect x="1031.90" y="73.12" width="10.97" height="11.75" fill="#e6f3fe"/><rect x="1044.12" y="73.12" width="10.75" height="11.75" fill="#e6f3fe"/><rect x="1056.12" y="73.12" width="11.75" height="11.75" fill="#e6f3fe"/><rect x="1069.12" y="73.12" width="10.75" height="11.75" fill="#e6f3fe"/><rect x="1081.12" y="73.12" width="11.75" height="11.75" fill="#e6f3fe"/><rect x="1094.12" y="73.12" width="10.98" height="11.75" fill="#e6f3fe"/><rect x="1031.90" y="86.12" width="10.97" height="10.75" fill="#e6f3fe"/><rect x="1044.12" y="86.12" width="10.75" height="10.75" fill="#e6f3fe"/><rect x="1056.12" y="86.12" width="11.75" height="10.75" fill="#e6f3fe"/><rect x="1069.12" y="86.12" width="10.75" height="10.75" fill="#e6f3fe"/><rect x="1081.12" y="86.12" width="11.75" height="10.75" fill="#e6f3fe"/><rect x="1094.12" y="86.12" width="10.98" height="10.75" fill="#e6f3fe"/><rect x="1031.90" y="98.12" width="10.97" height="11.75" fill="#63b6fd"/><rect x="1044.12" y="98.12" width="10.75" height="11.75" fill="#63b6fd"/><rect x="1056.12" y="98.12" width="11.75" height="11.75" fill="#63b6fd"/><rect x="1069.12" y="98.12" width="10.75" height="11.75" fill="#63b6fd"/><rect x="1081.12" y="98.12" width="11.75" height="11.75" fill="#63b6fd"/><rect x="1094.12" y="98.12" width="10.98" height="11.75" fill="#63b6fd"/><rect x="1031.90" y="111.12" width="10.97" height="11.78" fill="#e6f3fe"/><rect x="1044.12" y="111.12" width="10.75" height="11.78" fill="#e6f3fe"/><rect x="1056.12" y="111.12" width="11.75" height="11.78" fill="#e6f3fe"/><rect x="1069.12" y="111.12" width="10.75" height="11.78" fill="#e6f3fe"/><rect x="1081.12" y="111.12" width="11.75" height="11.78" fill="#e6f3fe"/><rect x="1094.12" y="111.12" width="10.98" height="11.78" fill="#e6f3fe"/>
<rect x="1121.00" y="50.00" width="7.88" height="9.88" fill="#e6f3fe"/><rect x="1130.12" y="50.00" width="8.08" height="9.88" fill="#e6f3fe"/><rect x="1121.00" y="61.12" width="7.88" height="10.75" fill="#e6f3fe"/><rect x="1130.12" y="61.12" width="8.08" height="10.75" fill="#e6f3fe"/><rect x="1121.00" y="73.12" width="7.88" height="11.75" fill="#e6f3fe"/><rect x="1130.12" y="73.12" width="8.08" height="11.75" fill="#e6f3fe"/><rect x="1121.00" y="86.12" width="7.88" height="10.75" fill="#e6f3fe"/><rect x="1130.12" y="86.12" width="8.08" height="10.75" fill="#e6f3fe"/><rect x="1121.00" y="98.12" width="7.88" height="11.75" fill="#00fc00"/><rect x="1130.12" y="98.12" width="8.08" height="11.75" fill="#00fc00"/><rect x="1121.00" y="111.12" width="7.88" height="11.78" fill="#e6f3fe"/><rect x="1130.12" y="111.12" width="8.08" height="11.78" fill="#e6f3fe"/>
<rect x="1121" y="98.30" width="17.2" height="11.20" fill="#00fc00"/>
<rect x="1153.00" y="52.50" width="11.88" height="6.38" fill="#63b6fd"/><rect x="1166.12" y="52.50" width="10.75" height="6.38" fill="#63b6fd"/><rect x="1178.12" y="52.50" width="11.75" height="6.38" fill="#63b6fd"/><rect x="1191.12" y="52.50" width="10.75" height="6.38" fill="#63b6fd"/><rect x="1203.12" y="52.50" width="10.75" height="6.38" fill="#63b6fd"/><rect x="1215.12" y="52.50" width="11.97" height="6.38" fill="#63b6fd"/><rect x="1153.00" y="60.12" width="11.88" height="8.38" fill="#63b6fd"/><rect x="1166.12" y="60.12" width="10.75" height="8.38" fill="#63b6fd"/><rect x="1178.12" y="60.12" width="11.75" height="8.38" fill="#63b6fd"/><rect x="1191.12" y="60.12" width="10.75" height="8.38" fill="#63b6fd"/><rect x="1203.12" y="60.12" width="10.75" height="8.38" fill="#63b6fd"/><rect x="1215.12" y="60.12" width="11.97" height="8.38" fill="#63b6fd"/>
<text x="1107.63" y="65.25" font-family='"Liberation Serif", serif' font-size="13.5" font-weight="bold" font-style="normal" fill="#000" text-anchor="start" textLength="9.95" lengthAdjust="spacingAndGlyphs" >=</text>
<text x="1140.54" y="67.23" font-family='"Liberation Serif", serif' font-size="19.5" font-weight="normal" font-style="normal" fill="#000" text-anchor="start" >×</text>
<text x="1182.6" y="68.5" font-family='"Liberation Serif", serif' font-size="16.5" font-style="italic" font-weight="bold" fill="#000"><tspan textLength="11.6" lengthAdjust="spacingAndGlyphs">H</tspan><tspan font-size="10.8" dy="-6.8" dx="0.3">T</tspan></text>
<text x="1063.1000000000001" y="106.5" font-family='"Liberation Serif", serif' font-size="16" font-style="italic" font-weight="bold" fill="#000"><tspan>s</tspan><tspan font-size="11.5" font-style="normal" dy="2.9" dx="1.2">5</tspan></text>
<text x="1124.53" y="110.59" font-family='"Liberation Serif", serif' font-size="20.75" font-weight="normal" font-style="normal" fill="#000" text-anchor="start" >?</text>
<text x="975.3000000000001" y="145" font-family='"Liberation Serif", serif' font-size="12" font-weight="normal" font-style="normal" fill="#000" text-anchor="start" textLength="38.5" lengthAdjust="spacingAndGlyphs" stroke="#000" stroke-width="0.2">Problem</text>
<circle cx="1023.1" cy="141.6" r="6.2" fill="none" stroke="#000" stroke-width="0.75"/>
<text x="1023.1" y="145.51" font-family='"Liberation Serif", serif' font-size="11.5" font-weight="normal" font-style="normal" fill="#000" text-anchor="middle" >6</text>
<rect x="1031.90" y="130.40" width="10.97" height="9.47" fill="#e6f3fe"/><rect x="1044.12" y="130.40" width="10.75" height="9.47" fill="#e6f3fe"/><rect x="1056.12" y="130.40" width="11.75" height="9.47" fill="#e6f3fe"/><rect x="1069.12" y="130.40" width="10.75" height="9.47" fill="#e6f3fe"/><rect x="1081.12" y="130.40" width="11.75" height="9.47" fill="#e6f3fe"/><rect x="1094.12" y="130.40" width="10.98" height="9.47" fill="#e6f3fe"/><rect x="1031.90" y="141.12" width="10.97" height="10.75" fill="#e6f3fe"/><rect x="1044.12" y="141.12" width="10.75" height="10.75" fill="#e6f3fe"/><rect x="1056.12" y="141.12" width="11.75" height="10.75" fill="#e6f3fe"/><rect x="1069.12" y="141.12" width="10.75" height="10.75" fill="#e6f3fe"/><rect x="1081.12" y="141.12" width="11.75" height="10.75" fill="#e6f3fe"/><rect x="1094.12" y="141.12" width="10.98" height="10.75" fill="#e6f3fe"/><rect x="1031.90" y="153.12" width="10.97" height="11.75" fill="#e6f3fe"/><rect x="1044.12" y="153.12" width="10.75" height="11.75" fill="#e6f3fe"/><rect x="1056.12" y="153.12" width="11.75" height="11.75" fill="#e6f3fe"/><rect x="1069.12" y="153.12" width="10.75" height="11.75" fill="#e6f3fe"/><rect x="1081.12" y="153.12" width="11.75" height="11.75" fill="#e6f3fe"/><rect x="1094.12" y="153.12" width="10.98" height="11.75" fill="#e6f3fe"/><rect x="1031.90" y="166.12" width="10.97" height="11.75" fill="#e6f3fe"/><rect x="1044.12" y="166.12" width="10.75" height="11.75" fill="#e6f3fe"/><rect x="1056.12" y="166.12" width="11.75" height="11.75" fill="#e6f3fe"/><rect x="1069.12" y="166.12" width="10.75" height="11.75" fill="#e6f3fe"/><rect x="1081.12" y="166.12" width="11.75" height="11.75" fill="#e6f3fe"/><rect x="1094.12" y="166.12" width="10.98" height="11.75" fill="#e6f3fe"/><rect x="1031.90" y="179.12" width="10.97" height="10.75" fill="#e6f3fe"/><rect x="1044.12" y="179.12" width="10.75" height="10.75" fill="#e6f3fe"/><rect x="1056.12" y="179.12" width="11.75" height="10.75" fill="#e6f3fe"/><rect x="1069.12" y="179.12" width="10.75" height="10.75" fill="#e6f3fe"/><rect x="1081.12" y="179.12" width="11.75" height="10.75" fill="#e6f3fe"/><rect x="1094.12" y="179.12" width="10.98" height="10.75" fill="#e6f3fe"/><rect x="1031.90" y="191.12" width="10.97" height="12.18" fill="#63b6fd"/><rect x="1044.12" y="191.12" width="10.75" height="12.18" fill="#63b6fd"/><rect x="1056.12" y="191.12" width="11.75" height="12.18" fill="#63b6fd"/><rect x="1069.12" y="191.12" width="10.75" height="12.18" fill="#63b6fd"/><rect x="1081.12" y="191.12" width="11.75" height="12.18" fill="#63b6fd"/><rect x="1094.12" y="191.12" width="10.98" height="12.18" fill="#63b6fd"/>
<rect x="1121.00" y="130.40" width="7.88" height="9.47" fill="#e6f3fe"/><rect x="1130.12" y="130.40" width="8.08" height="9.47" fill="#e6f3fe"/><rect x="1121.00" y="141.12" width="7.88" height="10.75" fill="#e6f3fe"/><rect x="1130.12" y="141.12" width="8.08" height="10.75" fill="#e6f3fe"/><rect x="1121.00" y="153.12" width="7.88" height="11.75" fill="#e6f3fe"/><rect x="1130.12" y="153.12" width="8.08" height="11.75" fill="#e6f3fe"/><rect x="1121.00" y="166.12" width="7.88" height="11.75" fill="#e6f3fe"/><rect x="1130.12" y="166.12" width="8.08" height="11.75" fill="#e6f3fe"/><rect x="1121.00" y="179.12" width="7.88" height="10.75" fill="#e6f3fe"/><rect x="1130.12" y="179.12" width="8.08" height="10.75" fill="#e6f3fe"/><rect x="1121.00" y="191.12" width="7.88" height="12.18" fill="#00fc00"/><rect x="1130.12" y="191.12" width="8.08" height="12.18" fill="#00fc00"/>
<rect x="1121" y="191.10" width="17.2" height="12.20" fill="#00fc00"/>
<rect x="1153.00" y="133.00" width="11.88" height="6.88" fill="#63b6fd"/><rect x="1166.12" y="133.00" width="10.75" height="6.88" fill="#63b6fd"/><rect x="1178.12" y="133.00" width="11.75" height="6.88" fill="#63b6fd"/><rect x="1191.12" y="133.00" width="10.75" height="6.88" fill="#63b6fd"/><rect x="1203.12" y="133.00" width="10.75" height="6.88" fill="#63b6fd"/><rect x="1215.12" y="133.00" width="11.97" height="6.88" fill="#63b6fd"/><rect x="1153.00" y="141.12" width="11.88" height="7.18" fill="#63b6fd"/><rect x="1166.12" y="141.12" width="10.75" height="7.18" fill="#63b6fd"/><rect x="1178.12" y="141.12" width="11.75" height="7.18" fill="#63b6fd"/><rect x="1191.12" y="141.12" width="10.75" height="7.18" fill="#63b6fd"/><rect x="1203.12" y="141.12" width="10.75" height="7.18" fill="#63b6fd"/><rect x="1215.12" y="141.12" width="11.97" height="7.18" fill="#63b6fd"/>
<text x="1107.63" y="145.76" font-family='"Liberation Serif", serif' font-size="13.5" font-weight="bold" font-style="normal" fill="#000" text-anchor="start" textLength="9.95" lengthAdjust="spacingAndGlyphs" >=</text>
<text x="1140.54" y="147.74" font-family='"Liberation Serif", serif' font-size="19.5" font-weight="normal" font-style="normal" fill="#000" text-anchor="start" >×</text>
<text x="1182.6" y="148.3" font-family='"Liberation Serif", serif' font-size="16.5" font-style="italic" font-weight="bold" fill="#000"><tspan textLength="11.6" lengthAdjust="spacingAndGlyphs">H</tspan><tspan font-size="10.8" dy="-6.8" dx="0.3">T</tspan></text>
<text x="1063.1000000000001" y="199.70000000000002" font-family='"Liberation Serif", serif' font-size="16" font-style="italic" font-weight="bold" fill="#000"><tspan>s</tspan><tspan font-size="11.5" font-style="normal" dy="2.9" dx="1.2">6</tspan></text>
<text x="1125.13" y="204.59" font-family='"Liberation Serif", serif' font-size="20.75" font-weight="normal" font-style="normal" fill="#000" text-anchor="start" >?</text>
<text x="948.5" y="61.599999999999994" font-family='"Liberation Serif", serif' font-size="17.5" font-weight="normal" font-style="normal" fill="#000" text-anchor="start" textLength="17.9" lengthAdjust="spacing" >...</text>
<text x="948.5" y="143.10000000000002" font-family='"Liberation Serif", serif' font-size="17.5" font-weight="normal" font-style="normal" fill="#000" text-anchor="start" textLength="17.9" lengthAdjust="spacing" >...</text>
<text x="948.5" y="263.6" font-family='"Liberation Serif", serif' font-size="17.5" font-weight="normal" font-style="normal" fill="#000" text-anchor="start" textLength="17.9" lengthAdjust="spacing" >...</text>
<text x="948.5" y="345.6" font-family='"Liberation Serif", serif' font-size="17.5" font-weight="normal" font-style="normal" fill="#000" text-anchor="start" textLength="17.9" lengthAdjust="spacing" >...</text>
<text x="681.9000000000001" y="266" font-family='"Liberation Serif", serif' font-size="12" font-weight="normal" font-style="normal" fill="#000" text-anchor="start" textLength="38.5" lengthAdjust="spacingAndGlyphs" stroke="#000" stroke-width="0.2">Problem</text>
<circle cx="730" cy="262.5" r="6.2" fill="none" stroke="#000" stroke-width="0.75"/>
<text x="730" y="266.41" font-family='"Liberation Serif", serif' font-size="11.5" font-weight="normal" font-style="normal" fill="#000" text-anchor="middle" >7</text>
<rect x="739.00" y="251.90" width="10.88" height="9.97" fill="#63b6fd"/><rect x="751.12" y="251.90" width="10.75" height="9.97" fill="#e6f3fe"/><rect x="763.12" y="251.90" width="10.75" height="9.97" fill="#e6f3fe"/><rect x="775.12" y="251.90" width="11.75" height="9.97" fill="#e6f3fe"/><rect x="788.12" y="251.90" width="10.75" height="9.97" fill="#e6f3fe"/><rect x="800.12" y="251.90" width="11.08" height="9.97" fill="#e6f3fe"/><rect x="739.00" y="263.12" width="10.88" height="10.75" fill="#63b6fd"/><rect x="751.12" y="263.12" width="10.75" height="10.75" fill="#e6f3fe"/><rect x="763.12" y="263.12" width="10.75" height="10.75" fill="#e6f3fe"/><rect x="775.12" y="263.12" width="11.75" height="10.75" fill="#e6f3fe"/><rect x="788.12" y="263.12" width="10.75" height="10.75" fill="#e6f3fe"/><rect x="800.12" y="263.12" width="11.08" height="10.75" fill="#e6f3fe"/><rect x="739.00" y="275.12" width="10.88" height="11.75" fill="#63b6fd"/><rect x="751.12" y="275.12" width="10.75" height="11.75" fill="#e6f3fe"/><rect x="763.12" y="275.12" width="10.75" height="11.75" fill="#e6f3fe"/><rect x="775.12" y="275.12" width="11.75" height="11.75" fill="#e6f3fe"/><rect x="788.12" y="275.12" width="10.75" height="11.75" fill="#e6f3fe"/><rect x="800.12" y="275.12" width="11.08" height="11.75" fill="#e6f3fe"/><rect x="739.00" y="288.12" width="10.88" height="10.75" fill="#63b6fd"/><rect x="751.12" y="288.12" width="10.75" height="10.75" fill="#e6f3fe"/><rect x="763.12" y="288.12" width="10.75" height="10.75" fill="#e6f3fe"/><rect x="775.12" y="288.12" width="11.75" height="10.75" fill="#e6f3fe"/><rect x="788.12" y="288.12" width="10.75" height="10.75" fill="#e6f3fe"/><rect x="800.12" y="288.12" width="11.08" height="10.75" fill="#e6f3fe"/><rect x="739.00" y="300.12" width="10.88" height="11.75" fill="#63b6fd"/><rect x="751.12" y="300.12" width="10.75" height="11.75" fill="#e6f3fe"/><rect x="763.12" y="300.12" width="10.75" height="11.75" fill="#e6f3fe"/><rect x="775.12" y="300.12" width="11.75" height="11.75" fill="#e6f3fe"/><rect x="788.12" y="300.12" width="10.75" height="11.75" fill="#e6f3fe"/><rect x="800.12" y="300.12" width="11.08" height="11.75" fill="#e6f3fe"/><rect x="739.00" y="313.12" width="10.88" height="11.68" fill="#63b6fd"/><rect x="751.12" y="313.12" width="10.75" height="11.68" fill="#e6f3fe"/><rect x="763.12" y="313.12" width="10.75" height="11.68" fill="#e6f3fe"/><rect x="775.12" y="313.12" width="11.75" height="11.68" fill="#e6f3fe"/><rect x="788.12" y="313.12" width="10.75" height="11.68" fill="#e6f3fe"/><rect x="800.12" y="313.12" width="11.08" height="11.68" fill="#e6f3fe"/>
<rect x="828.10" y="252.90" width="7.77" height="9.97" fill="#63b6fd"/><rect x="837.12" y="252.90" width="7.77" height="9.97" fill="#63b6fd"/><rect x="828.10" y="264.12" width="7.77" height="10.75" fill="#63b6fd"/><rect x="837.12" y="264.12" width="7.77" height="10.75" fill="#63b6fd"/><rect x="828.10" y="276.12" width="7.77" height="11.75" fill="#63b6fd"/><rect x="837.12" y="276.12" width="7.77" height="11.75" fill="#63b6fd"/><rect x="828.10" y="289.12" width="7.77" height="10.75" fill="#63b6fd"/><rect x="837.12" y="289.12" width="7.77" height="10.75" fill="#63b6fd"/><rect x="828.10" y="301.12" width="7.77" height="11.75" fill="#63b6fd"/><rect x="837.12" y="301.12" width="7.77" height="11.75" fill="#63b6fd"/><rect x="828.10" y="314.12" width="7.77" height="11.68" fill="#63b6fd"/><rect x="837.12" y="314.12" width="7.77" height="11.68" fill="#63b6fd"/>
<rect x="858.80" y="255.90" width="12.08" height="5.97" fill="#00fc00"/><rect x="872.12" y="255.90" width="10.75" height="5.97" fill="#e6f3fe"/><rect x="884.12" y="255.90" width="11.75" height="5.97" fill="#e6f3fe"/><rect x="897.12" y="255.90" width="11.75" height="5.97" fill="#e6f3fe"/><rect x="910.12" y="255.90" width="10.75" height="5.97" fill="#e6f3fe"/><rect x="922.12" y="255.90" width="11.97" height="5.97" fill="#e6f3fe"/><rect x="858.80" y="263.12" width="12.08" height="7.57" fill="#00fc00"/><rect x="872.12" y="263.12" width="10.75" height="7.57" fill="#e6f3fe"/><rect x="884.12" y="263.12" width="11.75" height="7.57" fill="#e6f3fe"/><rect x="897.12" y="263.12" width="11.75" height="7.57" fill="#e6f3fe"/><rect x="910.12" y="263.12" width="10.75" height="7.57" fill="#e6f3fe"/><rect x="922.12" y="263.12" width="11.97" height="7.57" fill="#e6f3fe"/>
<text x="814.03" y="267.65" font-family='"Liberation Serif", serif' font-size="13.5" font-weight="bold" font-style="normal" fill="#000" text-anchor="start" textLength="9.95" lengthAdjust="spacingAndGlyphs" >=</text>
<text x="846.84" y="269.63" font-family='"Liberation Serif", serif' font-size="19.5" font-weight="normal" font-style="normal" fill="#000" text-anchor="start" >×</text>
<text x="830.6" y="294.0" font-family='"Liberation Serif", serif' font-size="16.2" font-weight="bold" font-style="italic" fill="#000" text-anchor="start" textLength="12.3" lengthAdjust="spacingAndGlyphs" >H</text>
<text x="738.5" y="291.8" font-family='"Liberation Serif", serif' font-size="16.5" font-style="italic" font-weight="bold" fill="#000" textLength="7.2" lengthAdjust="spacingAndGlyphs">s</text>
<text x="746.1" y="284.7" font-family='"Liberation Serif", serif' font-size="11.5" font-style="italic" font-weight="bold" fill="#000">T</text>
<text x="746.7" y="295.90000000000003" font-family='"Liberation Serif", serif' font-size="10.4" font-style="normal" font-weight="bold" fill="#000">1</text>
<text x="860.35" y="269.39" font-family='"Liberation Serif", serif' font-size="20.6" font-weight="bold" font-style="normal" fill="#000" text-anchor="start" >?</text>
<text x="681.9000000000001" y="349" font-family='"Liberation Serif", serif' font-size="12" font-weight="normal" font-style="normal" fill="#000" text-anchor="start" textLength="38.5" lengthAdjust="spacingAndGlyphs" stroke="#000" stroke-width="0.2">Problem</text>
<circle cx="730.7" cy="345.5" r="6.2" fill="none" stroke="#000" stroke-width="0.75"/>
<text x="730.7" y="349.41" font-family='"Liberation Serif", serif' font-size="11.5" font-weight="normal" font-style="normal" fill="#000" text-anchor="middle" >8</text>
<rect x="739.30" y="333.90" width="10.58" height="9.98" fill="#e6f3fe"/><rect x="751.12" y="333.90" width="11.75" height="9.98" fill="#63b6fd"/><rect x="764.12" y="333.90" width="10.75" height="9.98" fill="#e6f3fe"/><rect x="776.12" y="333.90" width="10.75" height="9.98" fill="#e6f3fe"/><rect x="788.12" y="333.90" width="11.75" height="9.98" fill="#e6f3fe"/><rect x="801.12" y="333.90" width="10.88" height="9.98" fill="#e6f3fe"/><rect x="739.30" y="345.12" width="10.58" height="10.75" fill="#e6f3fe"/><rect x="751.12" y="345.12" width="11.75" height="10.75" fill="#63b6fd"/><rect x="764.12" y="345.12" width="10.75" height="10.75" fill="#e6f3fe"/><rect x="776.12" y="345.12" width="10.75" height="10.75" fill="#e6f3fe"/><rect x="788.12" y="345.12" width="11.75" height="10.75" fill="#e6f3fe"/><rect x="801.12" y="345.12" width="10.88" height="10.75" fill="#e6f3fe"/><rect x="739.30" y="357.12" width="10.58" height="11.75" fill="#e6f3fe"/><rect x="751.12" y="357.12" width="11.75" height="11.75" fill="#63b6fd"/><rect x="764.12" y="357.12" width="10.75" height="11.75" fill="#e6f3fe"/><rect x="776.12" y="357.12" width="10.75" height="11.75" fill="#e6f3fe"/><rect x="788.12" y="357.12" width="11.75" height="11.75" fill="#e6f3fe"/><rect x="801.12" y="357.12" width="10.88" height="11.75" fill="#e6f3fe"/><rect x="739.30" y="370.12" width="10.58" height="10.75" fill="#e6f3fe"/><rect x="751.12" y="370.12" width="11.75" height="10.75" fill="#63b6fd"/><rect x="764.12" y="370.12" width="10.75" height="10.75" fill="#e6f3fe"/><rect x="776.12" y="370.12" width="10.75" height="10.75" fill="#e6f3fe"/><rect x="788.12" y="370.12" width="11.75" height="10.75" fill="#e6f3fe"/><rect x="801.12" y="370.12" width="10.88" height="10.75" fill="#e6f3fe"/><rect x="739.30" y="382.12" width="10.58" height="11.75" fill="#e6f3fe"/><rect x="751.12" y="382.12" width="11.75" height="11.75" fill="#63b6fd"/><rect x="764.12" y="382.12" width="10.75" height="11.75" fill="#e6f3fe"/><rect x="776.12" y="382.12" width="10.75" height="11.75" fill="#e6f3fe"/><rect x="788.12" y="382.12" width="11.75" height="11.75" fill="#e6f3fe"/><rect x="801.12" y="382.12" width="10.88" height="11.75" fill="#e6f3fe"/><rect x="739.30" y="395.12" width="10.58" height="11.67" fill="#e6f3fe"/><rect x="751.12" y="395.12" width="11.75" height="11.67" fill="#63b6fd"/><rect x="764.12" y="395.12" width="10.75" height="11.67" fill="#e6f3fe"/><rect x="776.12" y="395.12" width="10.75" height="11.67" fill="#e6f3fe"/><rect x="788.12" y="395.12" width="11.75" height="11.67" fill="#e6f3fe"/><rect x="801.12" y="395.12" width="10.88" height="11.67" fill="#e6f3fe"/>
<rect x="828.70" y="334.80" width="7.17" height="10.07" fill="#63b6fd"/><rect x="837.12" y="334.80" width="8.08" height="10.07" fill="#63b6fd"/><rect x="828.70" y="346.12" width="7.17" height="10.75" fill="#63b6fd"/><rect x="837.12" y="346.12" width="8.08" height="10.75" fill="#63b6fd"/><rect x="828.70" y="358.12" width="7.17" height="10.75" fill="#63b6fd"/><rect x="837.12" y="358.12" width="8.08" height="10.75" fill="#63b6fd"/><rect x="828.70" y="370.12" width="7.17" height="11.75" fill="#63b6fd"/><rect x="837.12" y="370.12" width="8.08" height="11.75" fill="#63b6fd"/><rect x="828.70" y="383.12" width="7.17" height="10.75" fill="#63b6fd"/><rect x="837.12" y="383.12" width="8.08" height="10.75" fill="#63b6fd"/><rect x="828.70" y="395.12" width="7.17" height="12.58" fill="#63b6fd"/><rect x="837.12" y="395.12" width="8.08" height="12.58" fill="#63b6fd"/>
<rect x="859.00" y="337.00" width="11.88" height="5.88" fill="#e6f3fe"/><rect x="872.12" y="337.00" width="10.75" height="5.88" fill="#00fc00"/><rect x="884.12" y="337.00" width="11.75" height="5.88" fill="#e6f3fe"/><rect x="897.12" y="337.00" width="11.75" height="5.88" fill="#e6f3fe"/><rect x="910.12" y="337.00" width="10.75" height="5.88" fill="#e6f3fe"/><rect x="922.12" y="337.00" width="11.98" height="5.88" fill="#e6f3fe"/><rect x="859.00" y="344.12" width="11.88" height="7.88" fill="#e6f3fe"/><rect x="872.12" y="344.12" width="10.75" height="7.88" fill="#00fc00"/><rect x="884.12" y="344.12" width="11.75" height="7.88" fill="#e6f3fe"/><rect x="897.12" y="344.12" width="11.75" height="7.88" fill="#e6f3fe"/><rect x="910.12" y="344.12" width="10.75" height="7.88" fill="#e6f3fe"/><rect x="922.12" y="344.12" width="11.98" height="7.88" fill="#e6f3fe"/>
<text x="814.53" y="350.45" font-family='"Liberation Serif", serif' font-size="13.5" font-weight="bold" font-style="normal" fill="#000" text-anchor="start" textLength="9.95" lengthAdjust="spacingAndGlyphs" >=</text>
<text x="846.54" y="351.63" font-family='"Liberation Serif", serif' font-size="19.5" font-weight="normal" font-style="normal" fill="#000" text-anchor="start" >×</text>
<text x="831.0500000000001" y="376.0" font-family='"Liberation Serif", serif' font-size="16.2" font-weight="bold" font-style="italic" fill="#000" text-anchor="start" textLength="12.3" lengthAdjust="spacingAndGlyphs" >H</text>
<text x="750.3636237897648" y="373.79999999999995" font-family='"Liberation Serif", serif' font-size="16.5" font-style="italic" font-weight="bold" fill="#000" textLength="7.2" lengthAdjust="spacingAndGlyphs">s</text>
<text x="757.9636237897648" y="366.69999999999993" font-family='"Liberation Serif", serif' font-size="11.5" font-style="italic" font-weight="bold" fill="#000">T</text>
<text x="758.5636237897648" y="377.9" font-family='"Liberation Serif", serif' font-size="10.4" font-style="normal" font-weight="bold" fill="#000">2</text>
<text x="872.45" y="350.59" font-family='"Liberation Serif", serif' font-size="20.6" font-weight="bold" font-style="normal" fill="#000" text-anchor="start" >?</text>
<text x="975.2" y="265.8" font-family='"Liberation Serif", serif' font-size="12" font-weight="normal" font-style="normal" fill="#000" text-anchor="start" textLength="38.5" lengthAdjust="spacingAndGlyphs" stroke="#000" stroke-width="0.2">Problem</text>
<circle cx="1024" cy="262.3" r="6.2" fill="none" stroke="#000" stroke-width="0.75"/>
<text x="1024" y="265.87" font-family='"Liberation Serif", serif' font-size="10.5" font-weight="normal" font-style="normal" fill="#000" text-anchor="middle" textLength="7.6" lengthAdjust="spacingAndGlyphs" >11</text>
<rect x="1033.00" y="253.20" width="10.88" height="9.68" fill="#e6f3fe"/><rect x="1045.12" y="253.20" width="10.75" height="9.68" fill="#e6f3fe"/><rect x="1057.12" y="253.20" width="10.75" height="9.68" fill="#e6f3fe"/><rect x="1069.12" y="253.20" width="10.75" height="9.68" fill="#e6f3fe"/><rect x="1081.12" y="253.20" width="11.75" height="9.68" fill="#63b6fd"/><rect x="1094.12" y="253.20" width="10.78" height="9.68" fill="#e6f3fe"/><rect x="1033.00" y="264.12" width="10.88" height="10.75" fill="#e6f3fe"/><rect x="1045.12" y="264.12" width="10.75" height="10.75" fill="#e6f3fe"/><rect x="1057.12" y="264.12" width="10.75" height="10.75" fill="#e6f3fe"/><rect x="1069.12" y="264.12" width="10.75" height="10.75" fill="#e6f3fe"/><rect x="1081.12" y="264.12" width="11.75" height="10.75" fill="#63b6fd"/><rect x="1094.12" y="264.12" width="10.78" height="10.75" fill="#e6f3fe"/><rect x="1033.00" y="276.12" width="10.88" height="11.75" fill="#e6f3fe"/><rect x="1045.12" y="276.12" width="10.75" height="11.75" fill="#e6f3fe"/><rect x="1057.12" y="276.12" width="10.75" height="11.75" fill="#e6f3fe"/><rect x="1069.12" y="276.12" width="10.75" height="11.75" fill="#e6f3fe"/><rect x="1081.12" y="276.12" width="11.75" height="11.75" fill="#63b6fd"/><rect x="1094.12" y="276.12" width="10.78" height="11.75" fill="#e6f3fe"/><rect x="1033.00" y="289.12" width="10.88" height="10.75" fill="#e6f3fe"/><rect x="1045.12" y="289.12" width="10.75" height="10.75" fill="#e6f3fe"/><rect x="1057.12" y="289.12" width="10.75" height="10.75" fill="#e6f3fe"/><rect x="1069.12" y="289.12" width="10.75" height="10.75" fill="#e6f3fe"/><rect x="1081.12" y="289.12" width="11.75" height="10.75" fill="#63b6fd"/><rect x="1094.12" y="289.12" width="10.78" height="10.75" fill="#e6f3fe"/><rect x="1033.00" y="301.12" width="10.88" height="11.75" fill="#e6f3fe"/><rect x="1045.12" y="301.12" width="10.75" height="11.75" fill="#e6f3fe"/><rect x="1057.12" y="301.12" width="10.75" height="11.75" fill="#e6f3fe"/><rect x="1069.12" y="301.12" width="10.75" height="11.75" fill="#e6f3fe"/><rect x="1081.12" y="301.12" width="11.75" height="11.75" fill="#63b6fd"/><rect x="1094.12" y="301.12" width="10.78" height="11.75" fill="#e6f3fe"/><rect x="1033.00" y="314.12" width="10.88" height="4.38" fill="#e6f3fe"/><rect x="1045.12" y="314.12" width="10.75" height="4.38" fill="#e6f3fe"/><rect x="1057.12" y="314.12" width="10.75" height="4.38" fill="#e6f3fe"/><rect x="1069.12" y="314.12" width="10.75" height="4.38" fill="#e6f3fe"/><rect x="1081.12" y="314.12" width="11.75" height="4.38" fill="#63b6fd"/><rect x="1094.12" y="314.12" width="10.78" height="4.38" fill="#e6f3fe"/>
<rect x="1121.90" y="253.20" width="7.97" height="9.68" fill="#63b6fd"/><rect x="1131.12" y="253.20" width="8.08" height="9.68" fill="#63b6fd"/><rect x="1121.90" y="264.12" width="7.97" height="10.75" fill="#63b6fd"/><rect x="1131.12" y="264.12" width="8.08" height="10.75" fill="#63b6fd"/><rect x="1121.90" y="276.12" width="7.97" height="11.75" fill="#63b6fd"/><rect x="1131.12" y="276.12" width="8.08" height="11.75" fill="#63b6fd"/><rect x="1121.90" y="289.12" width="7.97" height="10.75" fill="#63b6fd"/><rect x="1131.12" y="289.12" width="8.08" height="10.75" fill="#63b6fd"/><rect x="1121.90" y="301.12" width="7.97" height="11.75" fill="#63b6fd"/><rect x="1131.12" y="301.12" width="8.08" height="11.75" fill="#63b6fd"/><rect x="1121.90" y="314.12" width="7.97" height="5.48" fill="#63b6fd"/><rect x="1131.12" y="314.12" width="8.08" height="5.48" fill="#63b6fd"/>
<rect x="1154.00" y="256.00" width="11.88" height="5.88" fill="#e6f3fe"/><rect x="1167.12" y="256.00" width="10.75" height="5.88" fill="#e6f3fe"/><rect x="1179.12" y="256.00" width="11.75" height="5.88" fill="#e6f3fe"/><rect x="1192.12" y="256.00" width="10.75" height="5.88" fill="#e6f3fe"/><rect x="1204.12" y="256.00" width="10.75" height="5.88" fill="#00fc00"/><rect x="1216.12" y="256.00" width="11.97" height="5.88" fill="#e6f3fe"/><rect x="1154.00" y="263.12" width="11.88" height="7.68" fill="#e6f3fe"/><rect x="1167.12" y="263.12" width="10.75" height="7.68" fill="#e6f3fe"/><rect x="1179.12" y="263.12" width="11.75" height="7.68" fill="#e6f3fe"/><rect x="1192.12" y="263.12" width="10.75" height="7.68" fill="#e6f3fe"/><rect x="1204.12" y="263.12" width="10.75" height="7.68" fill="#00fc00"/><rect x="1216.12" y="263.12" width="11.97" height="7.68" fill="#e6f3fe"/>
<text x="1107.83" y="267.65" font-family='"Liberation Serif", serif' font-size="13.5" font-weight="bold" font-style="normal" fill="#000" text-anchor="start" textLength="9.95" lengthAdjust="spacingAndGlyphs" >=</text>
<text x="1141.14" y="270.44" font-family='"Liberation Serif", serif' font-size="19.5" font-weight="normal" font-style="normal" fill="#000" text-anchor="start" >×</text>
<text x="1124.65" y="295.0" font-family='"Liberation Serif", serif' font-size="16.2" font-weight="bold" font-style="italic" fill="#000" text-anchor="start" textLength="12.3" lengthAdjust="spacingAndGlyphs" >H</text>
<text x="1080.4333333333334" y="292.8" font-family='"Liberation Serif", serif' font-size="16.5" font-style="italic" font-weight="bold" fill="#000" textLength="7.2" lengthAdjust="spacingAndGlyphs">s</text>
<text x="1088.0333333333333" y="285.7" font-family='"Liberation Serif", serif' font-size="11.5" font-style="italic" font-weight="bold" fill="#000">T</text>
<text x="1088.6333333333334" y="296.90000000000003" font-family='"Liberation Serif", serif' font-size="10.4" font-style="normal" font-weight="bold" fill="#000">5</text>
<text x="1205.05" y="269.69" font-family='"Liberation Serif", serif' font-size="20.6" font-weight="bold" font-style="normal" fill="#000" text-anchor="start" >?</text>
<text x="975.6" y="347.8" font-family='"Liberation Serif", serif' font-size="12" font-weight="normal" font-style="normal" fill="#000" text-anchor="start" textLength="38.5" lengthAdjust="spacingAndGlyphs" stroke="#000" stroke-width="0.2">Problem</text>
<circle cx="1024.4" cy="344.8" r="6.2" fill="none" stroke="#000" stroke-width="0.75"/>
<text x="1024.4" y="348.37" font-family='"Liberation Serif", serif' font-size="10.5" font-weight="normal" font-style="normal" fill="#000" text-anchor="middle" textLength="7.6" lengthAdjust="spacingAndGlyphs" >12</text>
<rect x="1033.00" y="334.80" width="10.88" height="10.07" fill="#e6f3fe"/><rect x="1045.12" y="334.80" width="10.75" height="10.07" fill="#e6f3fe"/><rect x="1057.12" y="334.80" width="10.75" height="10.07" fill="#e6f3fe"/><rect x="1069.12" y="334.80" width="11.75" height="10.07" fill="#e6f3fe"/><rect x="1082.12" y="334.80" width="10.75" height="10.07" fill="#e6f3fe"/><rect x="1094.12" y="334.80" width="10.88" height="10.07" fill="#63b6fd"/><rect x="1033.00" y="346.12" width="10.88" height="10.75" fill="#e6f3fe"/><rect x="1045.12" y="346.12" width="10.75" height="10.75" fill="#e6f3fe"/><rect x="1057.12" y="346.12" width="10.75" height="10.75" fill="#e6f3fe"/><rect x="1069.12" y="346.12" width="11.75" height="10.75" fill="#e6f3fe"/><rect x="1082.12" y="346.12" width="10.75" height="10.75" fill="#e6f3fe"/><rect x="1094.12" y="346.12" width="10.88" height="10.75" fill="#63b6fd"/><rect x="1033.00" y="358.12" width="10.88" height="10.75" fill="#e6f3fe"/><rect x="1045.12" y="358.12" width="10.75" height="10.75" fill="#e6f3fe"/><rect x="1057.12" y="358.12" width="10.75" height="10.75" fill="#e6f3fe"/><rect x="1069.12" y="358.12" width="11.75" height="10.75" fill="#e6f3fe"/><rect x="1082.12" y="358.12" width="10.75" height="10.75" fill="#e6f3fe"/><rect x="1094.12" y="358.12" width="10.88" height="10.75" fill="#63b6fd"/><rect x="1033.00" y="370.12" width="10.88" height="11.75" fill="#e6f3fe"/><rect x="1045.12" y="370.12" width="10.75" height="11.75" fill="#e6f3fe"/><rect x="1057.12" y="370.12" width="10.75" height="11.75" fill="#e6f3fe"/><rect x="1069.12" y="370.12" width="11.75" height="11.75" fill="#e6f3fe"/><rect x="1082.12" y="370.12" width="10.75" height="11.75" fill="#e6f3fe"/><rect x="1094.12" y="370.12" width="10.88" height="11.75" fill="#63b6fd"/><rect x="1033.00" y="383.12" width="10.88" height="10.75" fill="#e6f3fe"/><rect x="1045.12" y="383.12" width="10.75" height="10.75" fill="#e6f3fe"/><rect x="1057.12" y="383.12" width="10.75" height="10.75" fill="#e6f3fe"/><rect x="1069.12" y="383.12" width="11.75" height="10.75" fill="#e6f3fe"/><rect x="1082.12" y="383.12" width="10.75" height="10.75" fill="#e6f3fe"/><rect x="1094.12" y="383.12" width="10.88" height="10.75" fill="#63b6fd"/><rect x="1033.00" y="395.12" width="10.88" height="12.58" fill="#e6f3fe"/><rect x="1045.12" y="395.12" width="10.75" height="12.58" fill="#e6f3fe"/><rect x="1057.12" y="395.12" width="10.75" height="12.58" fill="#e6f3fe"/><rect x="1069.12" y="395.12" width="11.75" height="12.58" fill="#e6f3fe"/><rect x="1082.12" y="395.12" width="10.75" height="12.58" fill="#e6f3fe"/><rect x="1094.12" y="395.12" width="10.88" height="12.58" fill="#63b6fd"/>
<rect x="1122.00" y="334.80" width="7.88" height="10.07" fill="#63b6fd"/><rect x="1131.12" y="334.80" width="7.88" height="10.07" fill="#63b6fd"/><rect x="1122.00" y="346.12" width="7.88" height="10.75" fill="#63b6fd"/><rect x="1131.12" y="346.12" width="7.88" height="10.75" fill="#63b6fd"/><rect x="1122.00" y="358.12" width="7.88" height="10.75" fill="#63b6fd"/><rect x="1131.12" y="358.12" width="7.88" height="10.75" fill="#63b6fd"/><rect x="1122.00" y="370.12" width="7.88" height="11.75" fill="#63b6fd"/><rect x="1131.12" y="370.12" width="7.88" height="11.75" fill="#63b6fd"/><rect x="1122.00" y="383.12" width="7.88" height="10.75" fill="#63b6fd"/><rect x="1131.12" y="383.12" width="7.88" height="10.75" fill="#63b6fd"/><rect x="1122.00" y="395.12" width="7.88" height="12.58" fill="#63b6fd"/><rect x="1131.12" y="395.12" width="7.88" height="12.58" fill="#63b6fd"/>
<rect x="1152.90" y="337.00" width="11.97" height="5.88" fill="#e6f3fe"/><rect x="1166.12" y="337.00" width="10.75" height="5.88" fill="#e6f3fe"/><rect x="1178.12" y="337.00" width="11.75" height="5.88" fill="#e6f3fe"/><rect x="1191.12" y="337.00" width="10.75" height="5.88" fill="#e6f3fe"/><rect x="1203.12" y="337.00" width="10.75" height="5.88" fill="#e6f3fe"/><rect x="1215.12" y="337.00" width="11.88" height="5.88" fill="#00fc00"/><rect x="1152.90" y="344.12" width="11.97" height="7.88" fill="#e6f3fe"/><rect x="1166.12" y="344.12" width="10.75" height="7.88" fill="#e6f3fe"/><rect x="1178.12" y="344.12" width="11.75" height="7.88" fill="#e6f3fe"/><rect x="1191.12" y="344.12" width="10.75" height="7.88" fill="#e6f3fe"/><rect x="1203.12" y="344.12" width="10.75" height="7.88" fill="#e6f3fe"/><rect x="1215.12" y="344.12" width="11.88" height="7.88" fill="#00fc00"/>
<text x="1107.83" y="349.95" font-family='"Liberation Serif", serif' font-size="13.5" font-weight="bold" font-style="normal" fill="#000" text-anchor="start" textLength="9.95" lengthAdjust="spacingAndGlyphs" >=</text>
<text x="1140.24" y="351.54" font-family='"Liberation Serif", serif' font-size="19.5" font-weight="normal" font-style="normal" fill="#000" text-anchor="start" >×</text>
<text x="1124.6" y="376.90000000000003" font-family='"Liberation Serif", serif' font-size="16.2" font-weight="bold" font-style="italic" fill="#000" text-anchor="start" textLength="12.3" lengthAdjust="spacingAndGlyphs" >H</text>
<text x="1092.649377593361" y="374.7" font-family='"Liberation Serif", serif' font-size="16.5" font-style="italic" font-weight="bold" fill="#000" textLength="7.2" lengthAdjust="spacingAndGlyphs">s</text>
<text x="1100.2493775933608" y="367.59999999999997" font-family='"Liberation Serif", serif' font-size="11.5" font-style="italic" font-weight="bold" fill="#000">T</text>
<text x="1100.849377593361" y="378.8" font-family='"Liberation Serif", serif' font-size="10.4" font-style="normal" font-weight="bold" fill="#000">6</text>
<text x="1215.95" y="350.89" font-family='"Liberation Serif", serif' font-size="20.6" font-weight="bold" font-style="normal" fill="#000" text-anchor="start" >?</text>
<text x="922.5" y="233.7" font-family='"Liberation Serif", serif' font-size="17" font-weight="normal" font-style="normal" fill="#000" text-anchor="start" textLength="64.5" lengthAdjust="spacingAndGlyphs" >Updating</text>
<line x1="907.3" y1="215.5" x2="907.3" y2="236" stroke="#62b6f8" stroke-width="2" stroke-dasharray="5 2.5"/>
<path d="M903.6,231.5 L907.3,241.3 L911,231.5 L907.3,235 Z" fill="#62b6f8" stroke="#62b6f8" stroke-width="0.6"/>
<line x1="1002.3" y1="239.5" x2="1002.3" y2="219" stroke="#62b6f8" stroke-width="2" stroke-dasharray="5 2.5"/>
<path d="M998.6,224.5 L1002.3,214.5 L1006,224.5 L1002.3,221 Z" fill="#62b6f8" stroke="#62b6f8" stroke-width="0.6"/>
<line x1="670.5" y1="346.7" x2="607.12" y2="346.70" stroke="#000" stroke-width="2.6"/>
<polygon points="598.50,346.70 610.00,343.10 605.98,346.70 610.00,350.30" fill="#000"/>
<text x="603.3" y="340.3" font-family='"Liberation Serif", serif' font-size="17" font-weight="normal" font-style="normal" fill="#000" text-anchor="start" textLength="67" lengthAdjust="spacingAndGlyphs" >Converge</text>
<text x="445.8" y="351.7" font-family='"Liberation Serif", serif' font-size="22.3" font-weight="bold" font-style="italic" fill="#000" text-anchor="start" textLength="17.2" lengthAdjust="spacingAndGlyphs" >H</text>
<text x="462.77" y="350.27" font-family='"Liberation Serif", serif' font-size="19.0" font-weight="bold" font-style="normal" fill="#000" text-anchor="start" textLength="14.07" lengthAdjust="spacingAndGlyphs" >=</text>
<text x="487.6" y="299.5" font-family='"Liberation Serif", serif' font-size="16.4" font-weight="normal" font-style="normal" fill="#000" text-anchor="start" textLength="32.2" lengthAdjust="spacingAndGlyphs" >0.54</text>
<text x="537.7" y="299.5" font-family='"Liberation Serif", serif' font-size="16.4" font-weight="normal" font-style="normal" fill="#000" text-anchor="start" textLength="32.2" lengthAdjust="spacingAndGlyphs" >0.27</text>
<text x="580" y="297.4" font-family='"Liberation Serif", serif' font-size="16.3" fill="#000"><tspan textLength="9.6" lengthAdjust="spacingAndGlyphs">n</tspan><tspan font-size="10.4" dy="4.2" dx="0.6">1</tspan></text>
<text x="487.6" y="319.9" font-family='"Liberation Serif", serif' font-size="16.4" font-weight="normal" font-style="normal" fill="#000" text-anchor="start" textLength="32.2" lengthAdjust="spacingAndGlyphs" >0.22</text>
<text x="537.7" y="319.9" font-family='"Liberation Serif", serif' font-size="16.4" font-weight="normal" font-style="normal" fill="#000" text-anchor="start" textLength="32.2" lengthAdjust="spacingAndGlyphs" >0.91</text>
<text x="580" y="316.5" font-family='"Liberation Serif", serif' font-size="16.3" fill="#000"><tspan textLength="9.6" lengthAdjust="spacingAndGlyphs">n</tspan><tspan font-size="10.4" dy="4.2" dx="0.6">2</tspan></text>
<text x="487.6" y="338.2" font-family='"Liberation Serif", serif' font-size="16.4" font-weight="normal" font-style="normal" fill="#000" text-anchor="start" textLength="32.2" lengthAdjust="spacingAndGlyphs" >0.55</text>
<text x="537.7" y="338.2" font-family='"Liberation Serif", serif' font-size="16.4" font-weight="normal" font-style="normal" fill="#000" text-anchor="start" textLength="32.2" lengthAdjust="spacingAndGlyphs" >0.28</text>
<text x="580" y="337.4" font-family='"Liberation Serif", serif' font-size="16.3" fill="#000"><tspan textLength="9.6" lengthAdjust="spacingAndGlyphs">n</tspan><tspan font-size="10.4" dy="4.2" dx="0.6">3</tspan></text>
<text x="487.6" y="358.4" font-family='"Liberation Serif", serif' font-size="16.4" font-weight="normal" font-style="normal" fill="#000" text-anchor="start" textLength="32.2" lengthAdjust="spacingAndGlyphs" >0.98</text>
<text x="537.7" y="358.4" font-family='"Liberation Serif", serif' font-size="16.4" font-weight="normal" font-style="normal" fill="#000" text-anchor="start" textLength="32.2" lengthAdjust="spacingAndGlyphs" >0.11</text>
<text x="580" y="357.2" font-family='"Liberation Serif", serif' font-size="16.3" fill="#000"><tspan textLength="9.6" lengthAdjust="spacingAndGlyphs">n</tspan><tspan font-size="10.4" dy="4.2" dx="0.6">4</tspan></text>
<text x="487.6" y="379.2" font-family='"Liberation Serif", serif' font-size="16.4" font-weight="normal" font-style="normal" fill="#000" text-anchor="start" textLength="32.2" lengthAdjust="spacingAndGlyphs" >0.32</text>
<text x="537.7" y="379.2" font-family='"Liberation Serif", serif' font-size="16.4" font-weight="normal" font-style="normal" fill="#000" text-anchor="start" textLength="32.2" lengthAdjust="spacingAndGlyphs" >0.87</text>
<text x="580" y="377.4" font-family='"Liberation Serif", serif' font-size="16.3" fill="#000"><tspan textLength="9.6" lengthAdjust="spacingAndGlyphs">n</tspan><tspan font-size="10.4" dy="4.2" dx="0.6">5</tspan></text>
<text x="487.6" y="399.1" font-family='"Liberation Serif", serif' font-size="16.4" font-weight="normal" font-style="normal" fill="#000" text-anchor="start" textLength="32.2" lengthAdjust="spacingAndGlyphs" >0.26</text>
<text x="537.7" y="399.1" font-family='"Liberation Serif", serif' font-size="16.4" font-weight="normal" font-style="normal" fill="#000" text-anchor="start" textLength="32.2" lengthAdjust="spacingAndGlyphs" >0.11</text>
<text x="580" y="397.2" font-family='"Liberation Serif", serif' font-size="16.3" fill="#000"><tspan textLength="9.6" lengthAdjust="spacingAndGlyphs">n</tspan><tspan font-size="10.4" dy="4.2" dx="0.6">6</tspan></text>
<path d="M487,292.2 L482.7,292.2 L482.7,398.6 L487,398.6" fill="none" stroke="#000" stroke-width="1.35"/>
<path d="M570.6,292.2 L575.2,292.2 L575.2,398.6 L570.6,398.6" fill="none" stroke="#000" stroke-width="1.35"/>
<text x="500" y="415.8" font-family='"Liberation Serif", serif' font-size="11.2" font-weight="normal" font-style="normal" fill="#000" text-anchor="start" textLength="59.3" lengthAdjust="spacingAndGlyphs" >Latent Space</text>
<line x1="497.2" y1="412.9" x2="489.65" y2="412.90" stroke="#000" stroke-width="1.3"/>
<polygon points="481.40,412.90 492.40,409.50 488.55,412.90 492.40,416.30" fill="#000"/>
<line x1="562.4" y1="413.9" x2="569.75" y2="413.90" stroke="#000" stroke-width="1.3"/>
<polygon points="578.00,413.90 567.00,417.30 570.85,413.90 567.00,410.50" fill="#000"/></svg>
</body></html>
